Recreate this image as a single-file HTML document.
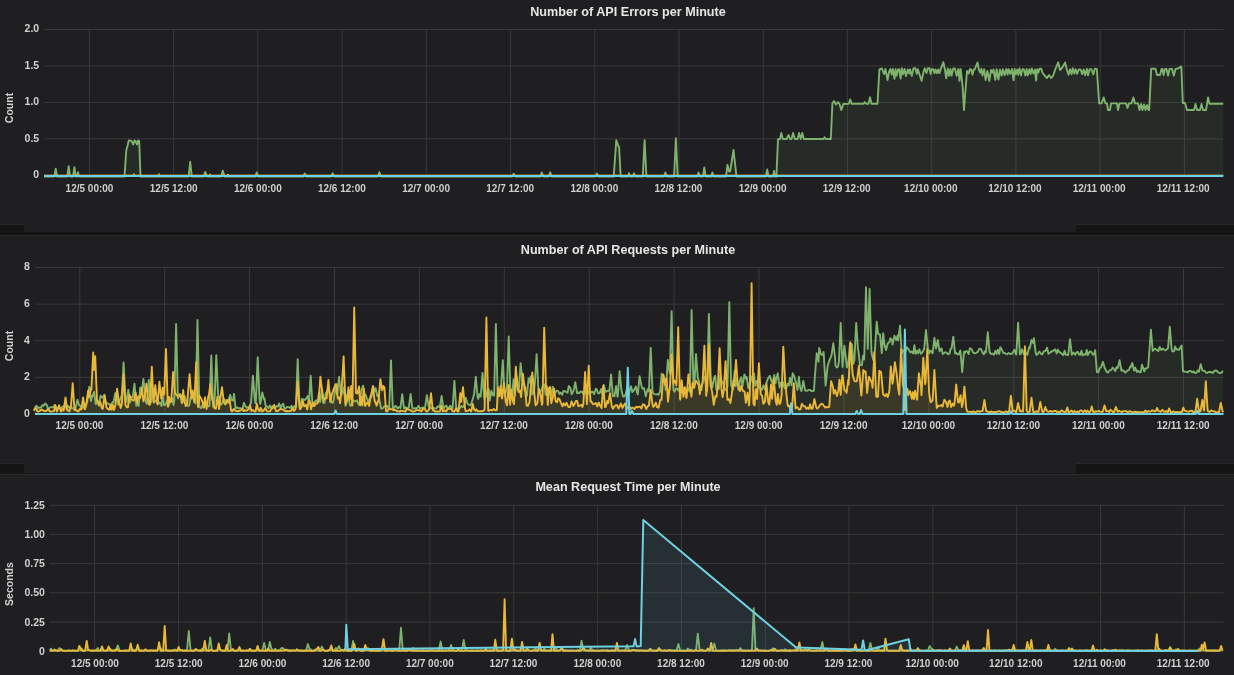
<!DOCTYPE html>
<html><head><meta charset="utf-8"><style>
html,body{margin:0;padding:0;}
body{width:1234px;height:675px;overflow:hidden;background:#1f1e20;position:relative;font-family:"Liberation Sans",sans-serif;}
.t{position:absolute;white-space:nowrap;color:#d0d0d0;font-weight:bold;}
.ttl{position:absolute;white-space:nowrap;color:#e6e6e6;font-weight:bold;font-size:13.2px;width:400px;text-align:center;transform:scaleX(0.955);}
.yl{filter:blur(0.2px);position:absolute;white-space:nowrap;color:#d0d0d0;font-weight:bold;font-size:10.5px;text-align:right;width:40px;}
.xl{filter:blur(0.2px);position:absolute;white-space:nowrap;color:#d0d0d0;font-weight:bold;font-size:10px;width:100px;text-align:center;}
.ax{filter:blur(0.2px);position:absolute;white-space:nowrap;color:#d0d0d0;font-weight:bold;font-size:10.5px;width:100px;text-align:center;transform:rotate(-90deg);}
.sep{position:absolute;}
svg{position:absolute;left:0;top:0;filter:blur(0.3px);}
</style></head><body>

<div class="sep" style="left:0;top:224px;width:24px;height:11px;background:#141414;border-top:1px solid #282828"></div>
<div class="sep" style="left:1076px;top:224px;width:158px;height:11px;background:#141414;border-top:1px solid #282828"></div>
<div class="sep" style="left:24px;top:232px;width:1052px;height:3px;background:#141414"></div>
<div class="sep" style="left:0;top:235px;width:1234px;height:1px;background:#292929"></div>
<div class="sep" style="left:0;top:463px;width:24px;height:9px;background:#141414;border-top:1px solid #282828"></div>
<div class="sep" style="left:1076px;top:463px;width:158px;height:9px;background:#141414;border-top:1px solid #282828"></div>
<div class="sep" style="left:0;top:473px;width:1234px;height:1px;background:#171717"></div>
<div class="sep" style="left:0;top:474px;width:1234px;height:1px;background:#292929"></div>
<svg width="1234" height="675" viewBox="0 0 1234 675">
<line x1="44.0" y1="175.30" x2="1223.3" y2="175.30" stroke="#3a393a" stroke-width="1"/>
<line x1="44.0" y1="138.85" x2="1223.3" y2="138.85" stroke="#3a393a" stroke-width="1"/>
<line x1="44.0" y1="102.40" x2="1223.3" y2="102.40" stroke="#3a393a" stroke-width="1"/>
<line x1="44.0" y1="65.95" x2="1223.3" y2="65.95" stroke="#3a393a" stroke-width="1"/>
<line x1="44.0" y1="29.50" x2="1223.3" y2="29.50" stroke="#3a393a" stroke-width="1"/>
<line x1="89.40" y1="29.5" x2="89.40" y2="175.3" stroke="#3a393a" stroke-width="1"/>
<line x1="173.63" y1="29.5" x2="173.63" y2="175.3" stroke="#3a393a" stroke-width="1"/>
<line x1="257.86" y1="29.5" x2="257.86" y2="175.3" stroke="#3a393a" stroke-width="1"/>
<line x1="342.09" y1="29.5" x2="342.09" y2="175.3" stroke="#3a393a" stroke-width="1"/>
<line x1="426.32" y1="29.5" x2="426.32" y2="175.3" stroke="#3a393a" stroke-width="1"/>
<line x1="510.55" y1="29.5" x2="510.55" y2="175.3" stroke="#3a393a" stroke-width="1"/>
<line x1="594.78" y1="29.5" x2="594.78" y2="175.3" stroke="#3a393a" stroke-width="1"/>
<line x1="679.01" y1="29.5" x2="679.01" y2="175.3" stroke="#3a393a" stroke-width="1"/>
<line x1="763.24" y1="29.5" x2="763.24" y2="175.3" stroke="#3a393a" stroke-width="1"/>
<line x1="847.47" y1="29.5" x2="847.47" y2="175.3" stroke="#3a393a" stroke-width="1"/>
<line x1="931.70" y1="29.5" x2="931.70" y2="175.3" stroke="#3a393a" stroke-width="1"/>
<line x1="1015.93" y1="29.5" x2="1015.93" y2="175.3" stroke="#3a393a" stroke-width="1"/>
<line x1="1100.16" y1="29.5" x2="1100.16" y2="175.3" stroke="#3a393a" stroke-width="1"/>
<line x1="1184.39" y1="29.5" x2="1184.39" y2="175.3" stroke="#3a393a" stroke-width="1"/>
<line x1="35.0" y1="414.00" x2="1223.5" y2="414.00" stroke="#3a393a" stroke-width="1"/>
<line x1="35.0" y1="377.38" x2="1223.5" y2="377.38" stroke="#3a393a" stroke-width="1"/>
<line x1="35.0" y1="340.75" x2="1223.5" y2="340.75" stroke="#3a393a" stroke-width="1"/>
<line x1="35.0" y1="304.12" x2="1223.5" y2="304.12" stroke="#3a393a" stroke-width="1"/>
<line x1="35.0" y1="267.50" x2="1223.5" y2="267.50" stroke="#3a393a" stroke-width="1"/>
<line x1="79.80" y1="267.5" x2="79.80" y2="414.0" stroke="#3a393a" stroke-width="1"/>
<line x1="164.70" y1="267.5" x2="164.70" y2="414.0" stroke="#3a393a" stroke-width="1"/>
<line x1="249.60" y1="267.5" x2="249.60" y2="414.0" stroke="#3a393a" stroke-width="1"/>
<line x1="334.50" y1="267.5" x2="334.50" y2="414.0" stroke="#3a393a" stroke-width="1"/>
<line x1="419.40" y1="267.5" x2="419.40" y2="414.0" stroke="#3a393a" stroke-width="1"/>
<line x1="504.30" y1="267.5" x2="504.30" y2="414.0" stroke="#3a393a" stroke-width="1"/>
<line x1="589.20" y1="267.5" x2="589.20" y2="414.0" stroke="#3a393a" stroke-width="1"/>
<line x1="674.10" y1="267.5" x2="674.10" y2="414.0" stroke="#3a393a" stroke-width="1"/>
<line x1="759.00" y1="267.5" x2="759.00" y2="414.0" stroke="#3a393a" stroke-width="1"/>
<line x1="843.90" y1="267.5" x2="843.90" y2="414.0" stroke="#3a393a" stroke-width="1"/>
<line x1="928.80" y1="267.5" x2="928.80" y2="414.0" stroke="#3a393a" stroke-width="1"/>
<line x1="1013.70" y1="267.5" x2="1013.70" y2="414.0" stroke="#3a393a" stroke-width="1"/>
<line x1="1098.60" y1="267.5" x2="1098.60" y2="414.0" stroke="#3a393a" stroke-width="1"/>
<line x1="1183.50" y1="267.5" x2="1183.50" y2="414.0" stroke="#3a393a" stroke-width="1"/>
<line x1="49.7" y1="651.20" x2="1223.3" y2="651.20" stroke="#3a393a" stroke-width="1"/>
<line x1="49.7" y1="622.00" x2="1223.3" y2="622.00" stroke="#3a393a" stroke-width="1"/>
<line x1="49.7" y1="592.80" x2="1223.3" y2="592.80" stroke="#3a393a" stroke-width="1"/>
<line x1="49.7" y1="563.60" x2="1223.3" y2="563.60" stroke="#3a393a" stroke-width="1"/>
<line x1="49.7" y1="534.40" x2="1223.3" y2="534.40" stroke="#3a393a" stroke-width="1"/>
<line x1="49.7" y1="505.20" x2="1223.3" y2="505.20" stroke="#3a393a" stroke-width="1"/>
<line x1="94.70" y1="505.2" x2="94.70" y2="651.2" stroke="#3a393a" stroke-width="1"/>
<line x1="178.52" y1="505.2" x2="178.52" y2="651.2" stroke="#3a393a" stroke-width="1"/>
<line x1="262.34" y1="505.2" x2="262.34" y2="651.2" stroke="#3a393a" stroke-width="1"/>
<line x1="346.16" y1="505.2" x2="346.16" y2="651.2" stroke="#3a393a" stroke-width="1"/>
<line x1="429.98" y1="505.2" x2="429.98" y2="651.2" stroke="#3a393a" stroke-width="1"/>
<line x1="513.80" y1="505.2" x2="513.80" y2="651.2" stroke="#3a393a" stroke-width="1"/>
<line x1="597.62" y1="505.2" x2="597.62" y2="651.2" stroke="#3a393a" stroke-width="1"/>
<line x1="681.44" y1="505.2" x2="681.44" y2="651.2" stroke="#3a393a" stroke-width="1"/>
<line x1="765.26" y1="505.2" x2="765.26" y2="651.2" stroke="#3a393a" stroke-width="1"/>
<line x1="849.08" y1="505.2" x2="849.08" y2="651.2" stroke="#3a393a" stroke-width="1"/>
<line x1="932.90" y1="505.2" x2="932.90" y2="651.2" stroke="#3a393a" stroke-width="1"/>
<line x1="1016.72" y1="505.2" x2="1016.72" y2="651.2" stroke="#3a393a" stroke-width="1"/>
<line x1="1100.54" y1="505.2" x2="1100.54" y2="651.2" stroke="#3a393a" stroke-width="1"/>
<line x1="1184.36" y1="505.2" x2="1184.36" y2="651.2" stroke="#3a393a" stroke-width="1"/>
<polygon points="44.0,176.0 44.0,176.6 54.3,176.6 55.7,168.6 57.1,176.6 67.3,176.6 68.7,166.2 70.1,176.6 73.0,176.6 74.4,167.3 75.8,176.6 77.0,176.6 78.0,172.2 79.0,176.6 124.5,176.6 126.3,150.0 127.5,146.0 128.8,140.5 130.5,140.6 131.6,141.2 133.2,144.5 134.5,140.5 135.6,141.0 136.9,144.5 138.1,140.5 139.2,141.0 140.5,176.6 188.6,176.6 190.2,161.8 191.8,176.6 203.7,176.6 205.3,171.9 206.9,176.6 221.2,176.6 222.8,170.6 224.4,176.6 255.1,176.6 256.7,172.5 258.3,176.6 303.2,176.6 304.8,173.5 306.4,176.6 331.1,176.6 332.7,173.3 334.3,176.6 377.8,176.6 379.4,172.2 381.0,176.6 512.1,176.6 513.7,173.7 515.3,176.6 540.2,176.6 541.8,172.5 543.4,176.6 548.6,176.6 550.2,172.3 551.8,176.6 595.3,176.6 596.9,173.5 598.5,176.6 613.7,176.6 616.3,140.3 618.3,145.9 619.1,147.0 620.7,176.6 627.8,176.6 629.0,173.2 630.2,176.6 632.8,176.6 634.0,173.2 635.2,176.6 642.8,176.6 644.6,140.3 646.4,176.6 664.0,176.6 665.4,172.5 666.8,176.6 674.1,176.6 675.9,138.3 677.7,176.6 697.2,176.6 698.6,172.5 700.0,176.6 702.9,176.6 704.3,167.5 705.7,176.6 711.0,176.6 712.4,172.5 713.8,176.6 726.0,176.6 727.5,164.6 729.0,171.5 730.2,171.0 733.5,150.0 736.5,176.6 765.8,176.6 767.2,169.4 768.6,176.6 773.0,176.6 774.0,171.0 775.0,176.6 776.4,176.6 778.0,139.2 780.0,139.0 781.3,133.0 782.8,139.0 786.5,139.0 788.6,135.0 790.0,139.0 791.5,139.0 793.1,133.0 794.8,139.0 797.5,139.0 799.1,133.0 800.7,139.0 802.3,133.0 803.8,139.0 823.5,139.0 824.6,137.3 825.8,139.0 830.8,139.0 832.4,103.5 834.0,101.0 836.0,104.5 838.0,102.0 839.5,104.0 841.3,110.0 843.4,104.0 848.8,103.8 850.2,99.4 851.6,103.8 863.5,103.8 864.8,102.0 866.2,103.8 868.5,103.8 870.0,97.3 871.5,103.8 877.5,103.8 879.4,69.5 882.0,68.5 884.0,74.0 885.5,69.0 887.5,80.0 889.0,72.0 890.4,69.0 891.7,74.6 892.9,68.9 894.5,78.9 895.6,69.3 896.6,75.9 898.1,69.1 899.2,69.1 900.6,78.6 901.8,68.2 903.1,74.3 904.6,68.9 906.0,76.0 907.8,69.4 909.1,73.5 910.1,69.3 911.8,75.9 913.5,68.2 915.4,68.2 916.8,73.9 917.8,69.1 921.6,80.8 923.5,72.0 924.7,68.3 926.5,72.9 927.7,68.3 929.5,68.3 930.6,74.1 931.8,69.2 933.4,69.2 934.5,73.2 935.7,69.6 937.0,73.2 938.3,69.4 939.4,73.2 940.6,69.3 943.4,62.2 945.0,70.0 946.2,78.3 947.7,68.5 949.0,75.9 950.4,69.0 951.5,75.7 953.2,68.5 954.9,68.5 956.7,75.8 958.4,69.0 959.5,80.9 960.7,69.2 962.5,85.0 964.0,110.0 965.5,90.0 967.0,71.0 968.7,73.5 969.8,69.2 971.0,69.2 972.5,74.7 973.7,69.5 974.7,69.5 977.5,62.5 979.0,70.0 980.2,72.7 981.4,68.7 982.5,75.6 984.2,69.1 985.6,80.0 987.4,71.0 989.3,81.0 991.0,70.0 992.5,72.6 993.5,69.5 995.3,79.9 996.6,69.2 998.4,79.6 1000.0,69.5 1001.6,75.7 1002.9,69.2 1004.6,75.3 1006.3,69.0 1007.6,74.6 1008.6,69.1 1010.3,73.9 1011.9,69.0 1013.6,80.3 1014.6,69.0 1015.8,74.2 1017.3,69.5 1018.3,74.9 1019.5,68.4 1021.0,75.6 1022.3,69.1 1023.7,69.1 1025.3,75.6 1026.6,69.0 1027.7,75.4 1029.4,69.2 1030.6,74.1 1031.9,68.5 1033.4,73.6 1035.0,69.6 1036.1,80.6 1037.1,69.2 1038.4,72.6 1039.5,68.8 1041.3,68.8 1042.5,72.7 1045.0,76.0 1047.0,78.0 1049.0,75.0 1051.0,78.0 1053.0,76.0 1055.0,70.0 1058.2,62.3 1060.0,70.0 1062.0,68.0 1065.1,62.5 1067.0,70.0 1068.5,74.7 1070.0,69.3 1071.6,74.2 1072.7,68.2 1074.3,73.5 1075.6,69.2 1077.1,73.9 1078.7,69.5 1080.6,69.5 1082.2,74.1 1083.7,69.5 1085.2,75.3 1086.9,68.8 1088.1,75.4 1089.6,69.2 1091.5,69.2 1093.3,74.4 1094.9,68.6 1096.8,69.0 1099.2,103.4 1101.5,103.4 1103.7,97.5 1105.5,103.4 1107.0,103.4 1108.0,110.0 1110.0,110.0 1111.0,103.4 1117.0,103.4 1118.0,110.0 1119.5,103.4 1126.0,103.4 1127.5,108.0 1129.0,103.4 1131.5,103.4 1133.4,97.5 1135.0,103.4 1138.0,103.4 1139.5,110.0 1141.0,104.0 1142.5,110.0 1144.0,104.5 1145.5,110.0 1147.0,105.0 1148.5,110.0 1149.2,110.0 1151.2,68.8 1155.5,68.8 1157.0,75.0 1160.0,75.0 1161.5,69.0 1162.5,69.0 1163.6,75.0 1165.0,69.0 1166.5,69.0 1168.1,75.5 1169.5,69.0 1172.0,69.0 1173.8,75.5 1175.5,69.0 1178.0,68.5 1180.0,67.3 1180.8,66.5 1181.4,67.0 1182.8,103.0 1185.0,103.0 1187.0,110.0 1194.0,110.0 1195.5,104.0 1197.0,110.0 1200.0,110.0 1201.5,104.0 1203.0,110.0 1206.0,110.0 1208.1,97.5 1209.5,103.8 1223.3,103.8 1223.3,176.0" fill="#7eb26d" fill-opacity="0.09" stroke="none"/>
<polyline points="44.0,176.6 54.3,176.6 55.7,168.6 57.1,176.6 67.3,176.6 68.7,166.2 70.1,176.6 73.0,176.6 74.4,167.3 75.8,176.6 77.0,176.6 78.0,172.2 79.0,176.6 124.5,176.6 126.3,150.0 127.5,146.0 128.8,140.5 130.5,140.6 131.6,141.2 133.2,144.5 134.5,140.5 135.6,141.0 136.9,144.5 138.1,140.5 139.2,141.0 140.5,176.6 188.6,176.6 190.2,161.8 191.8,176.6 203.7,176.6 205.3,171.9 206.9,176.6 221.2,176.6 222.8,170.6 224.4,176.6 255.1,176.6 256.7,172.5 258.3,176.6 303.2,176.6 304.8,173.5 306.4,176.6 331.1,176.6 332.7,173.3 334.3,176.6 377.8,176.6 379.4,172.2 381.0,176.6 512.1,176.6 513.7,173.7 515.3,176.6 540.2,176.6 541.8,172.5 543.4,176.6 548.6,176.6 550.2,172.3 551.8,176.6 595.3,176.6 596.9,173.5 598.5,176.6 613.7,176.6 616.3,140.3 618.3,145.9 619.1,147.0 620.7,176.6 627.8,176.6 629.0,173.2 630.2,176.6 632.8,176.6 634.0,173.2 635.2,176.6 642.8,176.6 644.6,140.3 646.4,176.6 664.0,176.6 665.4,172.5 666.8,176.6 674.1,176.6 675.9,138.3 677.7,176.6 697.2,176.6 698.6,172.5 700.0,176.6 702.9,176.6 704.3,167.5 705.7,176.6 711.0,176.6 712.4,172.5 713.8,176.6 726.0,176.6 727.5,164.6 729.0,171.5 730.2,171.0 733.5,150.0 736.5,176.6 765.8,176.6 767.2,169.4 768.6,176.6 773.0,176.6 774.0,171.0 775.0,176.6 776.4,176.6 778.0,139.2 780.0,139.0 781.3,133.0 782.8,139.0 786.5,139.0 788.6,135.0 790.0,139.0 791.5,139.0 793.1,133.0 794.8,139.0 797.5,139.0 799.1,133.0 800.7,139.0 802.3,133.0 803.8,139.0 823.5,139.0 824.6,137.3 825.8,139.0 830.8,139.0 832.4,103.5 834.0,101.0 836.0,104.5 838.0,102.0 839.5,104.0 841.3,110.0 843.4,104.0 848.8,103.8 850.2,99.4 851.6,103.8 863.5,103.8 864.8,102.0 866.2,103.8 868.5,103.8 870.0,97.3 871.5,103.8 877.5,103.8 879.4,69.5 882.0,68.5 884.0,74.0 885.5,69.0 887.5,80.0 889.0,72.0 890.4,69.0 891.7,74.6 892.9,68.9 894.5,78.9 895.6,69.3 896.6,75.9 898.1,69.1 899.2,69.1 900.6,78.6 901.8,68.2 903.1,74.3 904.6,68.9 906.0,76.0 907.8,69.4 909.1,73.5 910.1,69.3 911.8,75.9 913.5,68.2 915.4,68.2 916.8,73.9 917.8,69.1 921.6,80.8 923.5,72.0 924.7,68.3 926.5,72.9 927.7,68.3 929.5,68.3 930.6,74.1 931.8,69.2 933.4,69.2 934.5,73.2 935.7,69.6 937.0,73.2 938.3,69.4 939.4,73.2 940.6,69.3 943.4,62.2 945.0,70.0 946.2,78.3 947.7,68.5 949.0,75.9 950.4,69.0 951.5,75.7 953.2,68.5 954.9,68.5 956.7,75.8 958.4,69.0 959.5,80.9 960.7,69.2 962.5,85.0 964.0,110.0 965.5,90.0 967.0,71.0 968.7,73.5 969.8,69.2 971.0,69.2 972.5,74.7 973.7,69.5 974.7,69.5 977.5,62.5 979.0,70.0 980.2,72.7 981.4,68.7 982.5,75.6 984.2,69.1 985.6,80.0 987.4,71.0 989.3,81.0 991.0,70.0 992.5,72.6 993.5,69.5 995.3,79.9 996.6,69.2 998.4,79.6 1000.0,69.5 1001.6,75.7 1002.9,69.2 1004.6,75.3 1006.3,69.0 1007.6,74.6 1008.6,69.1 1010.3,73.9 1011.9,69.0 1013.6,80.3 1014.6,69.0 1015.8,74.2 1017.3,69.5 1018.3,74.9 1019.5,68.4 1021.0,75.6 1022.3,69.1 1023.7,69.1 1025.3,75.6 1026.6,69.0 1027.7,75.4 1029.4,69.2 1030.6,74.1 1031.9,68.5 1033.4,73.6 1035.0,69.6 1036.1,80.6 1037.1,69.2 1038.4,72.6 1039.5,68.8 1041.3,68.8 1042.5,72.7 1045.0,76.0 1047.0,78.0 1049.0,75.0 1051.0,78.0 1053.0,76.0 1055.0,70.0 1058.2,62.3 1060.0,70.0 1062.0,68.0 1065.1,62.5 1067.0,70.0 1068.5,74.7 1070.0,69.3 1071.6,74.2 1072.7,68.2 1074.3,73.5 1075.6,69.2 1077.1,73.9 1078.7,69.5 1080.6,69.5 1082.2,74.1 1083.7,69.5 1085.2,75.3 1086.9,68.8 1088.1,75.4 1089.6,69.2 1091.5,69.2 1093.3,74.4 1094.9,68.6 1096.8,69.0 1099.2,103.4 1101.5,103.4 1103.7,97.5 1105.5,103.4 1107.0,103.4 1108.0,110.0 1110.0,110.0 1111.0,103.4 1117.0,103.4 1118.0,110.0 1119.5,103.4 1126.0,103.4 1127.5,108.0 1129.0,103.4 1131.5,103.4 1133.4,97.5 1135.0,103.4 1138.0,103.4 1139.5,110.0 1141.0,104.0 1142.5,110.0 1144.0,104.5 1145.5,110.0 1147.0,105.0 1148.5,110.0 1149.2,110.0 1151.2,68.8 1155.5,68.8 1157.0,75.0 1160.0,75.0 1161.5,69.0 1162.5,69.0 1163.6,75.0 1165.0,69.0 1166.5,69.0 1168.1,75.5 1169.5,69.0 1172.0,69.0 1173.8,75.5 1175.5,69.0 1178.0,68.5 1180.0,67.3 1180.8,66.5 1181.4,67.0 1182.8,103.0 1185.0,103.0 1187.0,110.0 1194.0,110.0 1195.5,104.0 1197.0,110.0 1200.0,110.0 1201.5,104.0 1203.0,110.0 1206.0,110.0 1208.1,97.5 1209.5,103.8 1223.3,103.8" fill="none" stroke="#7eb26d" stroke-width="1.9" stroke-linejoin="round"/>
<polyline points="44.0,175.2 132.8,175.2 134.0,173.5 135.2,175.2 157.8,175.2 159.0,173.5 160.2,175.2 208.8,175.2 210.0,173.8 211.2,175.2 226.8,175.2 228.0,174.0 229.2,175.2 1223.3,175.2" fill="none" stroke="#eab839" stroke-width="1.0" stroke-linejoin="round"/>
<line x1="44" y1="176.0" x2="1223.3" y2="176.0" stroke="#6ed0e0" stroke-width="1.8"/>
<polygon points="35.0,414.0 35.0,407.3 36.6,405.8 38.3,408.5 40.0,407.2 41.1,407.8 42.6,404.9 43.6,405.8 45.4,403.4 47.2,405.6 47.7,408.4 49.3,408.2 50.7,407.1 52.5,407.1 53.1,407.5 54.9,404.9 56.7,408.3 56.8,408.5 58.1,408.2 59.4,408.2 61.0,408.5 62.1,406.8 63.1,406.6 64.6,405.1 66.3,408.4 68.0,405.8 69.3,407.7 70.4,406.8 72.1,408.5 73.2,408.2 74.9,408.2 75.6,408.2 77.4,399.8 79.2,405.5 80.1,405.6 81.4,408.3 83.1,407.9 84.1,403.3 85.8,405.8 87.4,400.7 89.2,386.8 91.0,401.0 92.0,395.8 92.2,396.8 94.0,392.0 95.8,404.1 95.9,404.0 97.6,400.5 98.9,405.9 100.5,395.5 102.1,397.6 102.6,397.7 104.4,394.5 106.2,404.3 106.8,403.2 108.5,403.6 109.5,404.6 111.1,405.3 112.6,401.9 113.5,402.4 115.3,393.3 117.1,400.2 118.3,404.8 119.9,400.0 121.5,395.7 121.8,395.3 123.6,362.5 125.4,398.3 125.8,397.5 126.5,401.8 128.3,389.8 130.1,402.5 131.0,397.7 132.2,396.5 132.7,397.1 134.5,383.6 136.3,405.7 137.6,403.4 138.7,405.8 140.2,387.5 141.5,392.1 141.6,392.7 143.4,379.0 145.2,396.4 145.8,401.8 146.8,403.8 147.0,403.8 148.8,380.0 150.6,402.0 151.2,402.5 152.5,387.4 154.0,402.8 155.4,400.9 157.1,399.6 158.5,403.7 159.8,402.5 161.5,406.0 162.7,393.8 163.9,405.0 165.7,404.8 167.1,400.2 168.6,405.8 169.9,402.0 171.1,402.1 172.4,398.2 173.5,405.1 174.3,400.4 176.1,324.0 177.9,398.4 179.1,394.4 180.4,395.8 181.7,395.4 182.9,401.7 184.7,396.0 186.5,402.7 187.5,405.7 189.1,405.9 190.7,397.2 191.8,398.7 193.6,395.3 194.8,400.2 195.7,403.6 197.5,319.9 199.3,405.6 199.3,405.6 200.4,407.9 201.5,408.0 203.1,403.4 204.4,407.4 205.8,402.7 206.9,405.1 208.4,406.5 209.5,405.9 211.3,355.5 213.1,406.9 214.0,404.7 214.5,402.4 216.3,355.1 218.1,394.7 219.2,396.9 220.3,404.7 221.8,404.3 223.5,398.8 224.7,399.5 225.9,403.4 227.2,402.9 228.8,399.1 230.2,394.8 231.6,400.4 232.9,400.6 234.0,393.9 235.6,408.5 237.3,407.3 238.7,408.5 239.8,408.1 241.5,408.4 242.7,408.4 243.9,402.8 245.2,405.9 246.8,407.8 247.9,407.2 249.4,406.9 250.6,404.0 251.1,402.9 252.9,375.6 254.7,398.2 255.4,403.1 255.9,401.5 257.7,357.2 259.5,398.6 260.2,404.0 260.5,403.3 262.3,392.4 264.1,399.8 264.5,398.4 265.6,405.6 266.9,406.5 268.6,408.4 269.9,405.4 271.1,407.6 272.5,406.3 273.6,407.6 275.1,408.1 276.6,406.0 278.0,406.5 279.1,403.5 280.7,408.2 281.8,404.9 283.3,403.8 284.4,408.4 285.7,408.5 287.0,406.8 288.6,407.2 290.1,407.9 291.6,405.8 293.1,408.3 294.5,406.0 295.7,407.1 295.9,407.1 297.7,359.2 299.5,406.1 300.6,405.4 301.9,398.9 303.6,399.3 304.7,400.0 306.4,398.4 307.7,396.0 308.9,402.7 310.7,375.6 312.5,405.9 313.6,406.0 314.7,402.0 316.3,400.2 317.6,402.3 318.9,392.8 320.2,401.9 321.8,390.0 323.1,402.6 324.5,403.0 325.6,393.7 326.8,391.6 328.4,389.6 330.0,393.8 331.4,402.4 332.7,403.0 334.0,398.9 335.4,385.6 337.0,394.4 337.3,393.9 339.1,376.8 340.9,395.2 341.2,395.3 342.6,392.6 343.9,387.5 345.5,405.9 347.0,395.0 348.5,397.6 350.0,405.5 351.7,405.3 353.1,400.3 354.3,400.9 356.0,401.5 357.1,400.3 358.6,404.3 359.8,404.9 361.3,390.3 363.1,385.7 364.9,395.9 365.6,394.5 366.9,398.5 368.2,401.7 369.9,398.4 371.4,397.2 371.4,397.2 373.2,386.2 375.0,391.3 375.7,388.3 377.3,396.3 378.6,395.2 379.9,402.8 381.1,408.5 382.6,408.5 384.1,406.5 385.7,405.9 387.2,405.7 388.3,408.5 389.2,408.1 391.0,360.4 392.8,408.1 394.1,408.1 395.5,405.7 396.6,406.8 397.8,408.5 399.1,406.9 400.4,408.2 402.2,394.2 404.0,408.3 404.7,408.5 405.9,407.2 407.1,408.5 408.8,407.7 410.6,393.9 412.4,408.5 413.5,408.5 414.9,408.1 415.9,408.4 417.3,407.8 418.5,405.8 420.0,408.5 421.5,407.9 423.2,407.3 424.3,408.5 425.1,407.1 426.9,395.1 428.7,406.4 428.9,406.1 430.5,408.0 432.3,408.4 433.5,407.8 435.0,408.5 436.4,408.5 438.1,406.1 439.1,406.4 439.8,407.4 441.6,396.0 443.4,407.7 443.6,408.3 445.0,406.7 446.4,405.6 447.5,408.5 448.8,408.1 450.2,405.7 451.7,408.3 452.6,408.4 454.4,380.9 456.2,407.8 457.7,408.5 458.8,408.1 459.9,408.2 461.4,405.9 462.8,407.0 464.5,405.6 465.7,397.6 467.3,403.1 469.0,404.9 470.6,405.3 472.0,401.4 473.4,396.8 474.0,394.8 475.8,376.8 477.6,397.1 478.3,398.8 479.5,394.0 480.7,396.6 482.5,372.9 484.3,399.0 484.4,399.1 485.5,389.7 487.0,396.9 488.7,389.2 489.8,400.6 491.3,390.7 492.4,395.0 493.5,392.8 494.1,395.7 495.9,324.0 497.7,396.5 499.1,390.0 500.2,392.4 501.0,387.4 502.8,360.1 504.6,394.9 504.9,395.6 506.3,390.3 506.9,389.0 508.7,336.4 510.5,394.7 512.1,394.6 513.6,379.2 514.9,395.8 516.6,376.4 517.9,387.9 518.8,391.4 520.6,363.1 522.4,380.4 522.7,378.2 524.4,384.2 525.6,396.0 526.9,395.8 528.6,378.1 529.7,382.5 530.8,376.5 532.2,394.5 533.9,392.3 534.8,384.0 536.6,354.2 538.4,389.1 538.4,389.2 540.1,391.7 541.8,389.4 543.1,384.9 544.5,384.5 545.6,394.8 547.2,394.9 548.3,388.8 549.8,391.2 551.3,394.8 552.6,386.8 553.7,391.9 555.2,392.8 556.8,390.6 558.1,390.9 559.4,393.9 560.6,392.6 562.1,394.7 563.4,391.0 564.8,391.1 566.0,391.9 567.6,392.7 568.8,386.0 570.3,387.8 571.7,394.4 573.5,390.8 573.5,390.9 575.3,382.1 577.1,393.2 577.6,392.3 579.2,393.1 580.5,391.7 582.0,391.5 583.5,394.3 585.1,391.2 586.7,394.2 588.1,391.0 589.5,394.2 591.1,392.2 592.5,391.6 594.0,394.1 595.8,388.7 596.9,389.5 597.9,393.1 599.5,393.3 601.2,389.0 602.0,393.1 603.8,385.0 605.6,391.9 606.9,391.1 608.6,390.6 609.3,391.5 611.1,374.4 612.9,396.2 612.9,396.2 614.5,396.4 616.1,385.9 617.4,396.5 617.8,396.5 619.6,371.1 621.4,390.0 623.0,396.6 624.1,396.6 625.7,394.3 627.0,388.1 628.5,396.2 629.8,389.7 631.1,386.3 632.3,392.0 633.4,391.1 634.7,389.1 635.9,386.5 637.0,392.3 637.8,394.3 639.6,376.2 641.4,385.5 642.4,388.6 644.1,388.1 645.8,396.2 647.0,391.6 648.1,388.8 648.9,391.5 650.7,347.8 652.5,391.1 653.3,393.5 654.7,394.1 656.2,394.4 657.3,394.1 658.6,394.7 660.1,391.4 661.6,373.8 663.3,375.8 664.6,378.4 665.7,390.0 666.0,387.8 667.8,360.0 669.6,373.2 669.8,372.2 671.6,311.1 673.4,390.0 674.6,391.7 676.2,388.2 677.4,388.9 678.7,390.8 680.1,385.2 681.3,392.0 682.8,390.9 684.3,387.4 685.9,390.3 687.4,391.5 688.4,387.5 689.8,391.8 691.6,310.0 693.4,384.4 694.2,388.0 696.0,354.0 697.8,378.0 699.0,381.2 700.1,389.5 701.5,390.0 703.1,378.4 704.7,376.7 706.0,384.7 707.1,388.9 707.1,389.0 708.9,314.0 710.7,379.6 711.1,381.1 712.4,387.5 713.9,378.3 715.2,375.8 716.4,390.0 717.6,389.3 719.0,388.7 720.2,375.7 721.8,381.4 723.4,383.7 724.5,389.4 726.0,389.9 727.3,386.4 727.5,386.7 729.3,302.2 731.1,385.1 731.6,386.5 733.1,389.7 734.6,371.0 735.6,386.0 736.7,378.4 738.4,389.9 739.9,380.8 741.2,377.2 742.4,386.3 742.6,385.7 744.4,374.4 746.2,379.2 746.7,376.9 748.2,388.2 749.5,383.9 751.0,376.3 752.6,382.1 754.0,373.4 755.2,386.1 756.8,380.6 758.5,386.9 760.2,388.3 762.0,389.9 763.5,385.3 765.1,389.7 766.6,382.2 768.2,378.0 769.9,375.7 771.2,380.5 772.7,383.5 774.3,374.9 775.7,383.1 776.0,380.6 777.8,373.3 779.6,387.5 780.6,382.9 782.3,386.4 783.5,382.3 784.7,388.4 786.4,388.0 787.6,383.7 788.8,385.6 789.9,377.8 791.5,385.3 792.6,373.3 794.4,376.7 796.2,383.5 797.5,390.0 798.9,376.8 800.0,387.1 801.3,391.0 801.5,390.8 803.3,381.0 805.1,390.4 806.0,390.8 807.1,390.8 808.6,389.9 810.1,389.9 811.3,391.0 812.6,391.0 813.9,390.8 814.9,376.2 816.7,353.3 818.5,361.7 819.2,348.0 821.0,354.4 822.8,355.2 823.5,352.5 823.6,351.9 825.6,385.6 827.6,366.3 828.2,363.9 830.0,358.9 831.5,355.4 833.3,343.3 835.1,357.9 835.5,365.5 836.7,367.4 838.0,366.6 838.9,361.9 840.7,322.9 842.5,367.0 842.5,367.0 842.6,366.3 844.4,345.6 846.2,360.8 846.8,367.5 848.2,364.3 850.0,343.3 851.8,344.2 852.0,344.4 853.3,363.9 854.4,360.0 856.2,322.9 858.0,349.2 858.5,351.9 860.0,365.0 861.5,365.1 861.8,365.4 863.1,355.7 864.2,359.6 866.0,287.3 867.8,348.9 867.8,348.9 869.6,288.9 871.4,350.3 871.6,352.5 871.8,354.1 873.3,360.0 874.8,350.6 874.9,350.6 876.7,321.6 878.2,334.0 880.0,334.4 881.8,353.1 883.2,333.3 884.6,345.4 886.0,350.0 887.8,343.3 889.6,342.0 890.3,338.3 891.9,339.7 892.6,344.6 894.4,335.6 896.2,339.9 897.6,335.5 898.2,340.4 900.0,325.6 901.8,353.7 903.0,351.2 904.4,350.0 905.7,350.7 907.0,347.3 908.7,349.4 910.3,352.4 911.6,351.4 913.3,353.4 914.4,345.2 915.6,353.9 917.0,350.7 918.2,353.3 919.4,349.2 920.9,353.7 922.6,352.1 924.1,348.7 924.2,349.2 926.0,330.0 927.8,348.3 929.1,353.6 930.5,350.5 932.0,352.3 932.6,353.3 934.4,337.8 936.0,348.6 937.8,340.0 939.6,351.4 940.4,349.1 941.6,348.5 942.8,354.1 944.1,353.0 945.3,352.2 946.5,352.6 948.2,354.2 949.4,353.7 950.7,348.6 951.5,348.6 953.3,336.7 955.1,353.5 956.3,352.8 957.5,354.3 958.9,354.4 960.1,350.9 960.4,350.5 962.2,372.2 964.0,351.8 964.6,353.2 965.8,351.1 967.5,351.5 968.6,354.1 969.9,348.3 971.6,349.1 973.1,352.4 974.7,353.3 976.4,352.8 977.7,351.9 979.4,348.6 981.1,349.2 982.7,352.8 983.9,354.3 985.0,351.3 986.0,352.2 987.8,332.2 989.6,351.9 990.7,353.8 992.4,353.6 993.9,354.7 995.3,351.0 996.6,353.9 997.9,349.6 999.2,354.0 1000.3,347.2 1002.0,349.9 1003.3,352.9 1004.5,353.0 1005.7,353.6 1007.2,354.2 1008.6,353.0 1010.0,353.8 1011.7,354.0 1013.1,352.2 1014.4,349.8 1015.9,354.5 1016.3,354.5 1018.1,322.6 1019.9,354.4 1020.5,354.1 1022.1,349.2 1023.7,354.0 1025.1,350.2 1026.3,353.8 1027.4,354.9 1029.1,347.1 1029.7,348.5 1031.5,340.0 1033.3,342.9 1033.9,338.1 1035.7,352.9 1036.5,355.0 1037.9,353.8 1039.4,351.4 1040.8,353.6 1042.2,354.5 1043.9,351.2 1045.4,351.1 1047.1,347.7 1048.4,353.8 1050.1,352.8 1051.3,351.3 1052.5,351.3 1053.7,350.4 1055.2,349.4 1056.6,353.4 1058.0,349.6 1059.3,352.4 1060.6,352.5 1062.2,354.3 1063.4,355.1 1064.6,350.7 1065.9,354.9 1067.6,354.9 1068.2,355.0 1070.0,339.1 1071.8,354.7 1073.5,352.6 1075.1,354.7 1076.4,352.5 1078.0,352.0 1079.1,354.6 1080.2,354.9 1081.5,350.8 1082.7,355.4 1084.2,354.2 1085.6,354.6 1086.7,350.0 1087.8,355.2 1089.2,352.1 1090.4,351.4 1091.5,352.1 1092.8,354.6 1094.1,354.3 1095.2,350.2 1096.9,372.1 1098.3,372.3 1099.7,368.2 1101.1,367.1 1102.9,361.8 1104.7,367.9 1105.4,369.1 1106.6,371.9 1108.1,372.5 1109.8,370.1 1111.2,370.1 1112.6,367.6 1114.2,369.3 1115.3,371.1 1116.5,367.1 1117.8,368.1 1119.6,360.1 1121.4,370.7 1121.9,369.9 1123.5,370.6 1124.6,372.1 1125.7,372.5 1127.2,370.6 1128.9,370.1 1130.2,366.8 1130.5,367.3 1132.3,363.0 1134.1,370.6 1134.2,370.6 1135.3,367.6 1136.9,372.0 1138.0,370.7 1139.4,372.0 1140.8,372.2 1142.0,364.6 1143.1,367.7 1144.3,371.4 1145.3,368.4 1146.9,368.2 1148.2,367.1 1149.1,354.8 1150.9,329.8 1152.7,350.8 1153.4,350.1 1155.1,348.7 1156.8,350.0 1158.3,351.1 1159.6,347.1 1161.3,349.9 1162.7,348.6 1164.0,349.5 1165.6,350.4 1166.9,349.1 1168.0,348.5 1169.8,326.8 1171.6,348.7 1172.4,351.4 1174.1,351.3 1175.2,346.5 1176.4,349.4 1177.5,349.5 1178.9,349.9 1180.6,347.1 1181.6,345.5 1183.0,371.3 1184.6,371.6 1186.1,371.8 1187.8,372.3 1189.0,370.9 1190.6,370.9 1192.0,372.4 1193.6,371.4 1195.0,373.0 1196.3,372.8 1197.8,370.5 1198.9,371.7 1200.7,364.2 1202.5,370.5 1203.5,370.9 1204.9,370.9 1206.2,372.9 1207.5,372.8 1209.0,371.7 1210.5,372.3 1211.6,372.0 1212.9,372.9 1214.0,371.4 1215.6,370.4 1216.8,370.6 1218.1,372.4 1219.9,373.0 1221.6,372.8 1222.8,370.6 1222.8,414.0" fill="#7eb26d" fill-opacity="0.09" stroke="none"/>
<polyline points="35.0,407.3 36.6,405.8 38.3,408.5 40.0,407.2 41.1,407.8 42.6,404.9 43.6,405.8 45.4,403.4 47.2,405.6 47.7,408.4 49.3,408.2 50.7,407.1 52.5,407.1 53.1,407.5 54.9,404.9 56.7,408.3 56.8,408.5 58.1,408.2 59.4,408.2 61.0,408.5 62.1,406.8 63.1,406.6 64.6,405.1 66.3,408.4 68.0,405.8 69.3,407.7 70.4,406.8 72.1,408.5 73.2,408.2 74.9,408.2 75.6,408.2 77.4,399.8 79.2,405.5 80.1,405.6 81.4,408.3 83.1,407.9 84.1,403.3 85.8,405.8 87.4,400.7 89.2,386.8 91.0,401.0 92.0,395.8 92.2,396.8 94.0,392.0 95.8,404.1 95.9,404.0 97.6,400.5 98.9,405.9 100.5,395.5 102.1,397.6 102.6,397.7 104.4,394.5 106.2,404.3 106.8,403.2 108.5,403.6 109.5,404.6 111.1,405.3 112.6,401.9 113.5,402.4 115.3,393.3 117.1,400.2 118.3,404.8 119.9,400.0 121.5,395.7 121.8,395.3 123.6,362.5 125.4,398.3 125.8,397.5 126.5,401.8 128.3,389.8 130.1,402.5 131.0,397.7 132.2,396.5 132.7,397.1 134.5,383.6 136.3,405.7 137.6,403.4 138.7,405.8 140.2,387.5 141.5,392.1 141.6,392.7 143.4,379.0 145.2,396.4 145.8,401.8 146.8,403.8 147.0,403.8 148.8,380.0 150.6,402.0 151.2,402.5 152.5,387.4 154.0,402.8 155.4,400.9 157.1,399.6 158.5,403.7 159.8,402.5 161.5,406.0 162.7,393.8 163.9,405.0 165.7,404.8 167.1,400.2 168.6,405.8 169.9,402.0 171.1,402.1 172.4,398.2 173.5,405.1 174.3,400.4 176.1,324.0 177.9,398.4 179.1,394.4 180.4,395.8 181.7,395.4 182.9,401.7 184.7,396.0 186.5,402.7 187.5,405.7 189.1,405.9 190.7,397.2 191.8,398.7 193.6,395.3 194.8,400.2 195.7,403.6 197.5,319.9 199.3,405.6 199.3,405.6 200.4,407.9 201.5,408.0 203.1,403.4 204.4,407.4 205.8,402.7 206.9,405.1 208.4,406.5 209.5,405.9 211.3,355.5 213.1,406.9 214.0,404.7 214.5,402.4 216.3,355.1 218.1,394.7 219.2,396.9 220.3,404.7 221.8,404.3 223.5,398.8 224.7,399.5 225.9,403.4 227.2,402.9 228.8,399.1 230.2,394.8 231.6,400.4 232.9,400.6 234.0,393.9 235.6,408.5 237.3,407.3 238.7,408.5 239.8,408.1 241.5,408.4 242.7,408.4 243.9,402.8 245.2,405.9 246.8,407.8 247.9,407.2 249.4,406.9 250.6,404.0 251.1,402.9 252.9,375.6 254.7,398.2 255.4,403.1 255.9,401.5 257.7,357.2 259.5,398.6 260.2,404.0 260.5,403.3 262.3,392.4 264.1,399.8 264.5,398.4 265.6,405.6 266.9,406.5 268.6,408.4 269.9,405.4 271.1,407.6 272.5,406.3 273.6,407.6 275.1,408.1 276.6,406.0 278.0,406.5 279.1,403.5 280.7,408.2 281.8,404.9 283.3,403.8 284.4,408.4 285.7,408.5 287.0,406.8 288.6,407.2 290.1,407.9 291.6,405.8 293.1,408.3 294.5,406.0 295.7,407.1 295.9,407.1 297.7,359.2 299.5,406.1 300.6,405.4 301.9,398.9 303.6,399.3 304.7,400.0 306.4,398.4 307.7,396.0 308.9,402.7 310.7,375.6 312.5,405.9 313.6,406.0 314.7,402.0 316.3,400.2 317.6,402.3 318.9,392.8 320.2,401.9 321.8,390.0 323.1,402.6 324.5,403.0 325.6,393.7 326.8,391.6 328.4,389.6 330.0,393.8 331.4,402.4 332.7,403.0 334.0,398.9 335.4,385.6 337.0,394.4 337.3,393.9 339.1,376.8 340.9,395.2 341.2,395.3 342.6,392.6 343.9,387.5 345.5,405.9 347.0,395.0 348.5,397.6 350.0,405.5 351.7,405.3 353.1,400.3 354.3,400.9 356.0,401.5 357.1,400.3 358.6,404.3 359.8,404.9 361.3,390.3 363.1,385.7 364.9,395.9 365.6,394.5 366.9,398.5 368.2,401.7 369.9,398.4 371.4,397.2 371.4,397.2 373.2,386.2 375.0,391.3 375.7,388.3 377.3,396.3 378.6,395.2 379.9,402.8 381.1,408.5 382.6,408.5 384.1,406.5 385.7,405.9 387.2,405.7 388.3,408.5 389.2,408.1 391.0,360.4 392.8,408.1 394.1,408.1 395.5,405.7 396.6,406.8 397.8,408.5 399.1,406.9 400.4,408.2 402.2,394.2 404.0,408.3 404.7,408.5 405.9,407.2 407.1,408.5 408.8,407.7 410.6,393.9 412.4,408.5 413.5,408.5 414.9,408.1 415.9,408.4 417.3,407.8 418.5,405.8 420.0,408.5 421.5,407.9 423.2,407.3 424.3,408.5 425.1,407.1 426.9,395.1 428.7,406.4 428.9,406.1 430.5,408.0 432.3,408.4 433.5,407.8 435.0,408.5 436.4,408.5 438.1,406.1 439.1,406.4 439.8,407.4 441.6,396.0 443.4,407.7 443.6,408.3 445.0,406.7 446.4,405.6 447.5,408.5 448.8,408.1 450.2,405.7 451.7,408.3 452.6,408.4 454.4,380.9 456.2,407.8 457.7,408.5 458.8,408.1 459.9,408.2 461.4,405.9 462.8,407.0 464.5,405.6 465.7,397.6 467.3,403.1 469.0,404.9 470.6,405.3 472.0,401.4 473.4,396.8 474.0,394.8 475.8,376.8 477.6,397.1 478.3,398.8 479.5,394.0 480.7,396.6 482.5,372.9 484.3,399.0 484.4,399.1 485.5,389.7 487.0,396.9 488.7,389.2 489.8,400.6 491.3,390.7 492.4,395.0 493.5,392.8 494.1,395.7 495.9,324.0 497.7,396.5 499.1,390.0 500.2,392.4 501.0,387.4 502.8,360.1 504.6,394.9 504.9,395.6 506.3,390.3 506.9,389.0 508.7,336.4 510.5,394.7 512.1,394.6 513.6,379.2 514.9,395.8 516.6,376.4 517.9,387.9 518.8,391.4 520.6,363.1 522.4,380.4 522.7,378.2 524.4,384.2 525.6,396.0 526.9,395.8 528.6,378.1 529.7,382.5 530.8,376.5 532.2,394.5 533.9,392.3 534.8,384.0 536.6,354.2 538.4,389.1 538.4,389.2 540.1,391.7 541.8,389.4 543.1,384.9 544.5,384.5 545.6,394.8 547.2,394.9 548.3,388.8 549.8,391.2 551.3,394.8 552.6,386.8 553.7,391.9 555.2,392.8 556.8,390.6 558.1,390.9 559.4,393.9 560.6,392.6 562.1,394.7 563.4,391.0 564.8,391.1 566.0,391.9 567.6,392.7 568.8,386.0 570.3,387.8 571.7,394.4 573.5,390.8 573.5,390.9 575.3,382.1 577.1,393.2 577.6,392.3 579.2,393.1 580.5,391.7 582.0,391.5 583.5,394.3 585.1,391.2 586.7,394.2 588.1,391.0 589.5,394.2 591.1,392.2 592.5,391.6 594.0,394.1 595.8,388.7 596.9,389.5 597.9,393.1 599.5,393.3 601.2,389.0 602.0,393.1 603.8,385.0 605.6,391.9 606.9,391.1 608.6,390.6 609.3,391.5 611.1,374.4 612.9,396.2 612.9,396.2 614.5,396.4 616.1,385.9 617.4,396.5 617.8,396.5 619.6,371.1 621.4,390.0 623.0,396.6 624.1,396.6 625.7,394.3 627.0,388.1 628.5,396.2 629.8,389.7 631.1,386.3 632.3,392.0 633.4,391.1 634.7,389.1 635.9,386.5 637.0,392.3 637.8,394.3 639.6,376.2 641.4,385.5 642.4,388.6 644.1,388.1 645.8,396.2 647.0,391.6 648.1,388.8 648.9,391.5 650.7,347.8 652.5,391.1 653.3,393.5 654.7,394.1 656.2,394.4 657.3,394.1 658.6,394.7 660.1,391.4 661.6,373.8 663.3,375.8 664.6,378.4 665.7,390.0 666.0,387.8 667.8,360.0 669.6,373.2 669.8,372.2 671.6,311.1 673.4,390.0 674.6,391.7 676.2,388.2 677.4,388.9 678.7,390.8 680.1,385.2 681.3,392.0 682.8,390.9 684.3,387.4 685.9,390.3 687.4,391.5 688.4,387.5 689.8,391.8 691.6,310.0 693.4,384.4 694.2,388.0 696.0,354.0 697.8,378.0 699.0,381.2 700.1,389.5 701.5,390.0 703.1,378.4 704.7,376.7 706.0,384.7 707.1,388.9 707.1,389.0 708.9,314.0 710.7,379.6 711.1,381.1 712.4,387.5 713.9,378.3 715.2,375.8 716.4,390.0 717.6,389.3 719.0,388.7 720.2,375.7 721.8,381.4 723.4,383.7 724.5,389.4 726.0,389.9 727.3,386.4 727.5,386.7 729.3,302.2 731.1,385.1 731.6,386.5 733.1,389.7 734.6,371.0 735.6,386.0 736.7,378.4 738.4,389.9 739.9,380.8 741.2,377.2 742.4,386.3 742.6,385.7 744.4,374.4 746.2,379.2 746.7,376.9 748.2,388.2 749.5,383.9 751.0,376.3 752.6,382.1 754.0,373.4 755.2,386.1 756.8,380.6 758.5,386.9 760.2,388.3 762.0,389.9 763.5,385.3 765.1,389.7 766.6,382.2 768.2,378.0 769.9,375.7 771.2,380.5 772.7,383.5 774.3,374.9 775.7,383.1 776.0,380.6 777.8,373.3 779.6,387.5 780.6,382.9 782.3,386.4 783.5,382.3 784.7,388.4 786.4,388.0 787.6,383.7 788.8,385.6 789.9,377.8 791.5,385.3 792.6,373.3 794.4,376.7 796.2,383.5 797.5,390.0 798.9,376.8 800.0,387.1 801.3,391.0 801.5,390.8 803.3,381.0 805.1,390.4 806.0,390.8 807.1,390.8 808.6,389.9 810.1,389.9 811.3,391.0 812.6,391.0 813.9,390.8 814.9,376.2 816.7,353.3 818.5,361.7 819.2,348.0 821.0,354.4 822.8,355.2 823.5,352.5 823.6,351.9 825.6,385.6 827.6,366.3 828.2,363.9 830.0,358.9 831.5,355.4 833.3,343.3 835.1,357.9 835.5,365.5 836.7,367.4 838.0,366.6 838.9,361.9 840.7,322.9 842.5,367.0 842.5,367.0 842.6,366.3 844.4,345.6 846.2,360.8 846.8,367.5 848.2,364.3 850.0,343.3 851.8,344.2 852.0,344.4 853.3,363.9 854.4,360.0 856.2,322.9 858.0,349.2 858.5,351.9 860.0,365.0 861.5,365.1 861.8,365.4 863.1,355.7 864.2,359.6 866.0,287.3 867.8,348.9 867.8,348.9 869.6,288.9 871.4,350.3 871.6,352.5 871.8,354.1 873.3,360.0 874.8,350.6 874.9,350.6 876.7,321.6 878.2,334.0 880.0,334.4 881.8,353.1 883.2,333.3 884.6,345.4 886.0,350.0 887.8,343.3 889.6,342.0 890.3,338.3 891.9,339.7 892.6,344.6 894.4,335.6 896.2,339.9 897.6,335.5 898.2,340.4 900.0,325.6 901.8,353.7 903.0,351.2 904.4,350.0 905.7,350.7 907.0,347.3 908.7,349.4 910.3,352.4 911.6,351.4 913.3,353.4 914.4,345.2 915.6,353.9 917.0,350.7 918.2,353.3 919.4,349.2 920.9,353.7 922.6,352.1 924.1,348.7 924.2,349.2 926.0,330.0 927.8,348.3 929.1,353.6 930.5,350.5 932.0,352.3 932.6,353.3 934.4,337.8 936.0,348.6 937.8,340.0 939.6,351.4 940.4,349.1 941.6,348.5 942.8,354.1 944.1,353.0 945.3,352.2 946.5,352.6 948.2,354.2 949.4,353.7 950.7,348.6 951.5,348.6 953.3,336.7 955.1,353.5 956.3,352.8 957.5,354.3 958.9,354.4 960.1,350.9 960.4,350.5 962.2,372.2 964.0,351.8 964.6,353.2 965.8,351.1 967.5,351.5 968.6,354.1 969.9,348.3 971.6,349.1 973.1,352.4 974.7,353.3 976.4,352.8 977.7,351.9 979.4,348.6 981.1,349.2 982.7,352.8 983.9,354.3 985.0,351.3 986.0,352.2 987.8,332.2 989.6,351.9 990.7,353.8 992.4,353.6 993.9,354.7 995.3,351.0 996.6,353.9 997.9,349.6 999.2,354.0 1000.3,347.2 1002.0,349.9 1003.3,352.9 1004.5,353.0 1005.7,353.6 1007.2,354.2 1008.6,353.0 1010.0,353.8 1011.7,354.0 1013.1,352.2 1014.4,349.8 1015.9,354.5 1016.3,354.5 1018.1,322.6 1019.9,354.4 1020.5,354.1 1022.1,349.2 1023.7,354.0 1025.1,350.2 1026.3,353.8 1027.4,354.9 1029.1,347.1 1029.7,348.5 1031.5,340.0 1033.3,342.9 1033.9,338.1 1035.7,352.9 1036.5,355.0 1037.9,353.8 1039.4,351.4 1040.8,353.6 1042.2,354.5 1043.9,351.2 1045.4,351.1 1047.1,347.7 1048.4,353.8 1050.1,352.8 1051.3,351.3 1052.5,351.3 1053.7,350.4 1055.2,349.4 1056.6,353.4 1058.0,349.6 1059.3,352.4 1060.6,352.5 1062.2,354.3 1063.4,355.1 1064.6,350.7 1065.9,354.9 1067.6,354.9 1068.2,355.0 1070.0,339.1 1071.8,354.7 1073.5,352.6 1075.1,354.7 1076.4,352.5 1078.0,352.0 1079.1,354.6 1080.2,354.9 1081.5,350.8 1082.7,355.4 1084.2,354.2 1085.6,354.6 1086.7,350.0 1087.8,355.2 1089.2,352.1 1090.4,351.4 1091.5,352.1 1092.8,354.6 1094.1,354.3 1095.2,350.2 1096.9,372.1 1098.3,372.3 1099.7,368.2 1101.1,367.1 1102.9,361.8 1104.7,367.9 1105.4,369.1 1106.6,371.9 1108.1,372.5 1109.8,370.1 1111.2,370.1 1112.6,367.6 1114.2,369.3 1115.3,371.1 1116.5,367.1 1117.8,368.1 1119.6,360.1 1121.4,370.7 1121.9,369.9 1123.5,370.6 1124.6,372.1 1125.7,372.5 1127.2,370.6 1128.9,370.1 1130.2,366.8 1130.5,367.3 1132.3,363.0 1134.1,370.6 1134.2,370.6 1135.3,367.6 1136.9,372.0 1138.0,370.7 1139.4,372.0 1140.8,372.2 1142.0,364.6 1143.1,367.7 1144.3,371.4 1145.3,368.4 1146.9,368.2 1148.2,367.1 1149.1,354.8 1150.9,329.8 1152.7,350.8 1153.4,350.1 1155.1,348.7 1156.8,350.0 1158.3,351.1 1159.6,347.1 1161.3,349.9 1162.7,348.6 1164.0,349.5 1165.6,350.4 1166.9,349.1 1168.0,348.5 1169.8,326.8 1171.6,348.7 1172.4,351.4 1174.1,351.3 1175.2,346.5 1176.4,349.4 1177.5,349.5 1178.9,349.9 1180.6,347.1 1181.6,345.5 1183.0,371.3 1184.6,371.6 1186.1,371.8 1187.8,372.3 1189.0,370.9 1190.6,370.9 1192.0,372.4 1193.6,371.4 1195.0,373.0 1196.3,372.8 1197.8,370.5 1198.9,371.7 1200.7,364.2 1202.5,370.5 1203.5,370.9 1204.9,370.9 1206.2,372.9 1207.5,372.8 1209.0,371.7 1210.5,372.3 1211.6,372.0 1212.9,372.9 1214.0,371.4 1215.6,370.4 1216.8,370.6 1218.1,372.4 1219.9,373.0 1221.6,372.8 1222.8,370.6" fill="none" stroke="#7eb26d" stroke-width="1.9" stroke-linejoin="round"/>
<polygon points="33.7,414.0 33.7,410.7 35.5,407.5 37.3,411.1 37.9,411.5 39.5,411.1 40.7,410.0 42.0,409.7 43.1,410.3 44.2,411.1 45.6,411.0 46.8,410.5 48.3,408.7 49.4,411.2 50.5,411.5 52.2,411.4 53.9,411.4 55.2,405.3 56.8,411.5 57.2,410.8 59.0,405.2 60.8,411.3 61.1,411.5 62.4,409.1 63.7,410.5 65.5,397.5 67.3,410.5 68.0,410.4 69.5,411.3 70.6,406.4 70.9,407.3 72.7,383.2 74.5,410.2 75.1,409.4 76.8,410.6 78.2,411.5 79.8,409.0 81.3,409.6 83.1,397.5 84.9,409.3 85.6,407.2 86.3,404.5 88.1,391.0 89.2,397.4 91.0,388.0 91.4,389.8 93.2,352.5 93.8,370.0 95.2,356.2 97.0,400.4 98.8,404.3 99.2,404.8 100.2,401.8 101.8,408.0 102.8,408.9 104.6,395.7 106.4,407.1 106.5,407.4 108.1,409.2 109.5,409.8 110.6,404.5 111.7,409.8 112.9,404.9 114.0,410.0 115.3,405.5 117.1,388.6 118.9,402.9 119.2,402.3 120.7,408.0 121.8,404.1 123.6,374.4 125.4,404.7 126.8,407.4 128.0,407.2 129.3,394.7 130.7,397.9 132.3,400.0 133.9,400.6 135.6,392.5 137.2,402.6 138.4,396.1 140.2,398.0 142.0,387.9 143.4,401.4 144.6,397.0 146.4,383.6 148.2,400.3 149.3,404.9 150.0,404.6 151.8,366.7 153.5,402.0 155.3,385.3 157.1,403.0 157.1,403.1 157.6,404.3 159.4,381.8 161.2,398.5 162.7,387.7 164.0,394.7 164.2,394.6 166.0,348.9 167.8,406.5 168.0,406.8 169.1,397.0 170.4,401.9 171.3,400.8 173.1,372.0 174.9,391.9 175.8,394.4 177.6,396.0 179.4,396.3 180.2,394.1 181.9,403.4 183.2,390.0 184.3,401.4 185.8,406.1 187.2,403.7 187.8,395.0 189.6,374.3 191.4,398.1 192.6,390.4 194.3,402.4 194.4,401.8 196.2,362.2 198.0,406.9 198.1,407.0 199.4,395.7 201.1,398.4 202.6,402.3 203.8,407.5 205.0,397.3 206.6,408.9 208.3,396.0 208.6,397.5 210.4,384.0 212.2,399.7 213.0,401.1 214.4,408.4 215.9,408.6 217.4,396.7 219.1,409.0 220.2,398.9 222.0,387.1 223.8,402.2 224.8,403.8 225.3,404.6 227.1,399.9 228.9,402.6 229.6,399.3 231.1,410.6 232.2,411.4 233.8,409.0 235.3,410.7 236.5,411.0 238.2,411.4 239.8,410.7 241.3,410.0 242.5,408.5 243.6,411.1 245.2,410.2 246.4,410.9 247.8,409.6 248.9,409.1 250.0,405.3 251.5,411.1 252.8,409.9 254.4,411.4 255.6,411.5 256.8,403.6 258.1,409.2 259.5,411.2 260.7,407.8 262.3,411.5 263.8,410.2 265.2,407.9 266.9,411.4 268.4,411.4 270.0,411.4 271.6,408.4 272.4,408.6 274.2,404.9 276.0,411.0 276.4,411.1 277.6,411.2 278.9,410.0 280.6,408.8 282.3,409.3 283.6,410.0 285.3,411.2 286.5,411.0 287.9,411.3 289.6,411.3 291.2,410.6 292.4,408.0 293.9,410.9 295.2,409.7 295.9,406.7 297.7,381.8 299.5,406.8 300.1,409.4 301.6,406.7 302.8,400.8 304.1,406.4 305.8,404.6 307.3,409.5 308.5,401.7 309.6,400.3 311.1,409.3 312.7,402.1 314.3,405.9 316.0,403.4 317.1,403.6 318.5,401.9 318.6,401.1 320.4,376.8 322.2,391.4 322.2,391.2 323.7,400.4 325.0,398.1 326.2,398.5 326.6,398.3 328.4,380.0 330.2,401.8 330.9,400.0 332.0,393.7 332.0,394.0 333.8,388.9 335.6,384.2 336.5,384.3 337.7,398.5 339.0,397.1 340.1,403.3 341.8,387.0 343.6,356.5 345.4,402.4 345.9,404.3 347.1,399.9 348.5,387.3 349.7,399.9 351.2,386.0 352.3,405.6 352.4,405.1 354.2,307.5 356.0,392.9 357.4,393.6 359.1,386.5 360.2,405.3 361.3,396.6 362.4,405.5 363.7,388.6 365.1,406.0 366.3,404.0 367.5,402.3 369.2,405.9 370.7,395.3 371.1,395.0 372.9,386.2 374.7,401.4 375.2,401.4 376.6,405.7 378.2,400.6 378.6,399.6 380.4,379.1 382.2,390.3 383.3,386.0 384.4,387.4 386.0,411.1 387.2,411.5 388.4,409.5 390.0,408.6 391.2,409.1 392.6,409.4 393.8,410.2 395.5,409.8 397.1,411.4 398.5,411.1 399.9,411.5 401.0,410.6 402.3,411.0 403.8,411.1 405.4,411.5 406.9,408.6 408.4,409.6 410.2,410.0 411.9,411.3 413.2,411.5 414.7,411.4 416.0,410.0 417.6,410.1 419.1,410.2 420.4,410.7 421.5,411.3 423.1,408.6 424.8,408.6 426.3,411.5 427.9,411.1 429.0,408.9 429.2,409.2 431.0,393.3 432.8,410.4 433.4,410.0 435.0,411.5 436.7,411.5 438.0,411.5 439.8,411.4 441.4,405.7 442.9,411.5 444.5,410.4 446.2,411.4 447.6,409.0 449.1,408.8 450.4,408.7 451.5,409.3 452.7,411.3 454.3,411.5 455.9,408.6 457.6,411.5 458.5,411.5 460.3,393.3 461.2,401.9 463.0,387.1 464.8,407.1 465.7,411.4 467.0,410.9 468.1,410.8 469.6,409.3 471.2,411.3 472.8,404.0 473.9,409.2 475.3,410.7 476.4,409.3 477.6,411.4 479.2,411.3 480.8,411.2 482.3,411.1 483.6,410.6 484.6,409.3 486.4,317.4 488.2,410.6 488.8,410.9 489.9,410.1 491.3,409.9 492.4,410.3 493.7,408.9 495.3,410.2 496.8,410.1 498.0,387.3 499.4,396.4 500.6,385.9 501.9,397.6 502.1,398.6 503.9,382.7 505.7,401.0 505.9,401.4 507.0,405.4 508.7,384.9 510.1,404.8 511.3,389.7 512.9,401.3 514.0,404.1 515.8,366.7 517.6,388.7 518.8,391.9 520.0,390.4 521.1,397.1 522.9,373.8 524.7,390.3 525.3,387.2 526.5,405.4 527.8,406.0 529.5,402.0 530.5,391.2 532.3,372.5 534.1,391.3 535.6,405.4 537.4,403.2 538.7,388.7 540.4,394.4 542.0,404.9 542.4,402.9 544.2,327.6 546.0,388.5 546.7,386.1 547.8,405.0 548.9,387.9 550.0,387.1 551.3,403.2 552.7,397.8 554.0,388.4 555.7,401.4 557.1,402.2 558.2,398.3 559.4,399.0 560.7,402.3 562.5,406.3 563.6,403.3 565.3,405.5 566.5,402.7 568.3,407.0 570.0,407.0 571.6,401.4 573.3,405.9 574.4,404.4 575.9,400.9 577.2,401.0 578.4,406.2 579.9,405.6 581.2,404.8 582.4,406.9 583.3,404.5 585.1,372.0 586.9,404.1 586.9,404.1 588.7,365.8 590.5,401.6 591.2,401.2 593.0,404.2 594.1,403.8 595.8,403.1 597.3,406.5 598.7,402.4 600.1,405.9 601.5,408.1 603.3,385.6 605.1,407.1 605.7,406.9 607.3,400.9 608.2,403.0 610.0,393.3 611.8,406.2 613.1,408.7 614.3,406.4 615.7,405.3 617.2,405.2 618.4,408.5 619.7,406.2 620.8,403.6 622.5,407.9 623.6,405.5 625.1,403.6 626.6,408.8 627.8,407.5 629.2,405.6 630.3,408.9 631.7,408.0 632.9,407.6 634.5,409.0 636.1,406.7 637.8,407.3 639.0,406.7 640.1,406.8 641.4,408.5 642.9,404.3 644.6,404.9 646.2,408.9 648.0,405.9 648.9,405.6 650.7,390.0 652.5,404.4 653.3,406.9 654.6,405.3 655.9,402.5 656.9,407.0 658.6,407.7 660.2,400.0 661.5,399.9 663.3,374.4 665.1,384.9 665.3,380.7 666.6,378.6 668.0,401.7 669.6,388.0 669.8,389.7 671.6,354.4 673.4,383.7 674.5,380.5 676.3,383.7 676.4,385.3 678.2,327.3 680.0,398.8 680.3,399.7 681.7,380.2 683.4,396.8 684.9,387.3 686.3,398.0 686.6,397.4 688.4,374.4 690.2,387.4 691.4,396.7 692.6,382.9 694.1,387.5 695.8,380.7 697.3,382.5 698.8,385.1 699.8,394.2 701.0,386.5 702.6,382.8 702.6,382.8 704.4,345.6 706.2,395.8 706.8,390.3 707.1,390.8 708.9,344.4 710.7,386.4 711.0,387.1 712.2,392.1 713.8,404.8 715.4,395.9 716.5,396.9 717.6,386.8 717.8,388.5 719.6,348.2 721.4,388.4 722.6,397.1 723.8,389.4 725.6,361.1 727.4,399.8 728.8,399.1 730.4,403.0 731.7,394.7 733.5,380.2 734.2,385.8 736.0,360.0 737.8,384.5 738.6,387.0 740.1,391.1 741.3,385.7 742.9,390.9 744.6,391.6 745.9,402.9 747.6,392.8 749.1,405.4 749.8,393.9 751.6,283.3 753.4,403.8 754.6,405.5 755.7,389.1 757.1,399.0 758.9,363.3 760.7,394.2 762.1,395.6 763.3,403.8 764.9,402.2 766.4,383.9 768.2,402.0 769.3,404.6 771.0,384.5 772.0,398.8 773.8,378.9 775.6,400.2 776.7,404.9 777.9,393.9 779.2,404.0 780.3,403.4 781.5,395.6 783.3,346.7 785.1,380.8 786.7,396.8 787.8,406.0 789.2,405.7 790.3,409.8 791.8,408.3 792.0,408.5 793.8,383.3 795.6,408.4 796.5,407.3 797.7,407.5 799.0,409.5 800.4,409.4 801.9,403.8 803.5,406.2 804.9,406.1 806.4,408.8 807.6,407.6 808.8,409.0 810.1,404.3 811.3,408.7 812.4,408.6 812.6,408.6 814.4,398.9 816.2,407.1 817.0,408.6 818.5,407.4 820.1,404.9 821.4,403.6 822.8,404.3 824.1,406.2 825.3,407.7 826.8,406.8 828.1,407.3 829.3,406.7 829.3,406.3 831.1,381.1 832.9,386.6 833.7,393.6 835.2,389.9 836.9,396.1 838.3,391.1 839.4,379.6 840.7,394.9 842.2,375.4 842.6,375.5 844.4,390.0 846.2,391.4 846.6,392.9 848.2,379.8 848.6,384.6 850.4,342.2 852.2,368.0 852.2,367.5 852.6,374.0 854.4,381.1 856.2,381.4 856.7,381.4 857.1,380.0 858.9,365.6 860.7,388.3 861.3,395.5 861.5,395.3 863.3,370.0 865.1,372.3 865.6,371.6 867.1,393.0 868.9,376.7 870.7,380.2 871.7,382.3 872.6,387.8 874.4,352.2 876.2,396.5 876.3,396.7 878.0,396.7 879.3,370.6 881.1,372.2 882.9,392.5 883.0,393.9 884.6,396.0 886.1,395.5 886.3,393.8 887.8,397.0 889.3,391.6 890.8,366.4 892.5,383.7 893.1,379.8 894.9,362.2 896.7,374.1 898.2,388.3 899.3,394.7 901.1,348.9 902.9,384.9 903.6,387.6 903.8,388.3 905.0,410.0 906.2,392.6 907.4,388.8 908.2,395.2 910.0,391.1 911.8,398.7 912.7,392.3 913.8,399.3 915.0,390.7 916.6,398.2 917.1,399.8 918.9,373.3 920.7,385.0 920.8,382.7 921.5,395.1 923.3,357.8 925.1,384.2 925.2,383.0 925.5,382.7 927.3,348.9 929.1,392.0 929.6,396.5 930.7,402.2 932.3,400.8 932.6,400.2 934.4,370.0 935.2,383.7 936.7,408.0 938.2,405.6 938.4,406.2 940.0,405.9 941.4,405.0 942.6,406.6 944.3,399.6 946.1,402.3 947.5,407.0 948.6,401.7 949.9,400.4 951.1,407.0 952.7,403.6 953.9,405.7 954.4,404.4 956.2,384.4 958.0,402.1 959.0,402.5 960.6,395.1 961.9,407.0 962.6,404.8 964.4,386.7 966.2,408.1 967.2,411.5 968.8,411.9 970.4,411.6 971.6,412.1 973.3,411.3 974.4,412.3 975.8,412.1 976.9,411.5 978.1,411.0 979.5,411.8 980.9,411.2 982.6,411.0 982.6,411.0 984.4,400.0 986.2,411.3 987.2,411.3 988.3,412.1 989.8,412.0 991.5,411.5 992.8,412.3 994.5,411.8 996.0,412.2 997.3,411.7 998.9,411.1 1000.6,411.7 1001.8,412.3 1003.2,412.2 1004.6,412.3 1006.0,411.3 1007.6,412.1 1009.1,411.5 1010.9,395.7 1012.7,411.3 1013.0,411.2 1014.4,410.7 1016.0,412.3 1016.3,412.1 1018.1,402.9 1019.9,411.3 1020.7,410.5 1021.7,411.4 1023.0,411.5 1023.1,411.5 1024.9,346.3 1026.7,410.8 1026.9,410.8 1028.1,412.3 1029.4,411.6 1029.7,411.7 1031.5,397.8 1033.3,412.2 1033.8,412.3 1035.1,412.1 1036.2,411.2 1037.8,411.9 1038.5,411.8 1040.3,401.9 1042.1,411.1 1043.1,412.3 1044.2,410.7 1045.3,407.0 1046.4,410.0 1048.0,411.6 1049.1,411.7 1050.7,410.9 1052.3,411.8 1053.8,411.0 1055.1,410.9 1056.2,411.0 1057.3,412.3 1058.8,411.5 1060.2,412.3 1061.6,410.3 1063.1,411.4 1064.6,412.3 1065.8,411.9 1067.4,407.4 1068.5,412.3 1069.9,411.8 1071.4,410.6 1072.8,412.0 1074.2,410.9 1075.4,412.3 1077.2,411.5 1078.9,412.2 1080.4,410.4 1081.6,410.5 1083.3,412.1 1084.8,410.3 1086.3,412.3 1087.4,410.6 1089.1,412.3 1090.6,411.1 1091.7,406.4 1093.1,411.6 1094.3,412.1 1095.6,411.2 1097.0,411.7 1098.8,410.9 1100.2,411.6 1101.4,411.9 1102.7,411.7 1104.5,405.4 1106.3,411.3 1107.6,410.8 1109.2,412.1 1110.5,409.7 1112.1,410.9 1113.2,412.2 1114.1,412.1 1115.9,407.0 1117.7,411.7 1117.8,411.7 1119.1,410.8 1120.6,411.5 1121.7,412.1 1123.2,411.1 1124.6,411.1 1126.1,411.1 1127.7,412.3 1129.3,411.3 1130.7,411.5 1132.4,412.3 1133.9,412.3 1135.0,411.5 1136.1,412.3 1137.4,411.8 1138.7,412.3 1140.3,412.2 1141.7,412.2 1142.8,412.2 1144.1,412.3 1145.3,410.5 1146.5,412.1 1148.1,411.0 1149.5,411.7 1151.2,411.1 1152.3,410.3 1153.9,411.2 1155.6,411.2 1157.1,407.9 1158.2,410.8 1159.4,411.2 1160.6,411.8 1162.4,409.8 1164.0,411.5 1165.4,411.9 1166.7,411.0 1167.8,412.3 1169.1,408.5 1170.7,412.1 1172.0,412.2 1173.4,411.4 1174.7,412.3 1176.4,412.0 1177.6,412.2 1179.3,412.2 1180.5,411.9 1181.8,412.3 1183.3,407.6 1184.6,410.7 1186.1,411.1 1187.2,411.6 1188.8,411.6 1190.4,410.9 1192.1,410.7 1193.4,412.3 1194.6,411.9 1195.4,412.0 1197.2,398.8 1199.0,412.0 1200.0,411.5 1200.5,411.2 1202.3,400.0 1204.0,410.5 1205.8,381.3 1207.6,410.2 1208.5,411.6 1209.7,411.8 1211.2,410.4 1212.9,411.1 1214.5,411.4 1216.2,412.3 1217.8,412.3 1219.0,412.0 1220.8,402.9 1222.6,411.5 1223.3,410.7 1223.3,414.0" fill="#eab839" fill-opacity="0.1" stroke="none"/>
<polyline points="33.7,410.7 35.5,407.5 37.3,411.1 37.9,411.5 39.5,411.1 40.7,410.0 42.0,409.7 43.1,410.3 44.2,411.1 45.6,411.0 46.8,410.5 48.3,408.7 49.4,411.2 50.5,411.5 52.2,411.4 53.9,411.4 55.2,405.3 56.8,411.5 57.2,410.8 59.0,405.2 60.8,411.3 61.1,411.5 62.4,409.1 63.7,410.5 65.5,397.5 67.3,410.5 68.0,410.4 69.5,411.3 70.6,406.4 70.9,407.3 72.7,383.2 74.5,410.2 75.1,409.4 76.8,410.6 78.2,411.5 79.8,409.0 81.3,409.6 83.1,397.5 84.9,409.3 85.6,407.2 86.3,404.5 88.1,391.0 89.2,397.4 91.0,388.0 91.4,389.8 93.2,352.5 93.8,370.0 95.2,356.2 97.0,400.4 98.8,404.3 99.2,404.8 100.2,401.8 101.8,408.0 102.8,408.9 104.6,395.7 106.4,407.1 106.5,407.4 108.1,409.2 109.5,409.8 110.6,404.5 111.7,409.8 112.9,404.9 114.0,410.0 115.3,405.5 117.1,388.6 118.9,402.9 119.2,402.3 120.7,408.0 121.8,404.1 123.6,374.4 125.4,404.7 126.8,407.4 128.0,407.2 129.3,394.7 130.7,397.9 132.3,400.0 133.9,400.6 135.6,392.5 137.2,402.6 138.4,396.1 140.2,398.0 142.0,387.9 143.4,401.4 144.6,397.0 146.4,383.6 148.2,400.3 149.3,404.9 150.0,404.6 151.8,366.7 153.5,402.0 155.3,385.3 157.1,403.0 157.1,403.1 157.6,404.3 159.4,381.8 161.2,398.5 162.7,387.7 164.0,394.7 164.2,394.6 166.0,348.9 167.8,406.5 168.0,406.8 169.1,397.0 170.4,401.9 171.3,400.8 173.1,372.0 174.9,391.9 175.8,394.4 177.6,396.0 179.4,396.3 180.2,394.1 181.9,403.4 183.2,390.0 184.3,401.4 185.8,406.1 187.2,403.7 187.8,395.0 189.6,374.3 191.4,398.1 192.6,390.4 194.3,402.4 194.4,401.8 196.2,362.2 198.0,406.9 198.1,407.0 199.4,395.7 201.1,398.4 202.6,402.3 203.8,407.5 205.0,397.3 206.6,408.9 208.3,396.0 208.6,397.5 210.4,384.0 212.2,399.7 213.0,401.1 214.4,408.4 215.9,408.6 217.4,396.7 219.1,409.0 220.2,398.9 222.0,387.1 223.8,402.2 224.8,403.8 225.3,404.6 227.1,399.9 228.9,402.6 229.6,399.3 231.1,410.6 232.2,411.4 233.8,409.0 235.3,410.7 236.5,411.0 238.2,411.4 239.8,410.7 241.3,410.0 242.5,408.5 243.6,411.1 245.2,410.2 246.4,410.9 247.8,409.6 248.9,409.1 250.0,405.3 251.5,411.1 252.8,409.9 254.4,411.4 255.6,411.5 256.8,403.6 258.1,409.2 259.5,411.2 260.7,407.8 262.3,411.5 263.8,410.2 265.2,407.9 266.9,411.4 268.4,411.4 270.0,411.4 271.6,408.4 272.4,408.6 274.2,404.9 276.0,411.0 276.4,411.1 277.6,411.2 278.9,410.0 280.6,408.8 282.3,409.3 283.6,410.0 285.3,411.2 286.5,411.0 287.9,411.3 289.6,411.3 291.2,410.6 292.4,408.0 293.9,410.9 295.2,409.7 295.9,406.7 297.7,381.8 299.5,406.8 300.1,409.4 301.6,406.7 302.8,400.8 304.1,406.4 305.8,404.6 307.3,409.5 308.5,401.7 309.6,400.3 311.1,409.3 312.7,402.1 314.3,405.9 316.0,403.4 317.1,403.6 318.5,401.9 318.6,401.1 320.4,376.8 322.2,391.4 322.2,391.2 323.7,400.4 325.0,398.1 326.2,398.5 326.6,398.3 328.4,380.0 330.2,401.8 330.9,400.0 332.0,393.7 332.0,394.0 333.8,388.9 335.6,384.2 336.5,384.3 337.7,398.5 339.0,397.1 340.1,403.3 341.8,387.0 343.6,356.5 345.4,402.4 345.9,404.3 347.1,399.9 348.5,387.3 349.7,399.9 351.2,386.0 352.3,405.6 352.4,405.1 354.2,307.5 356.0,392.9 357.4,393.6 359.1,386.5 360.2,405.3 361.3,396.6 362.4,405.5 363.7,388.6 365.1,406.0 366.3,404.0 367.5,402.3 369.2,405.9 370.7,395.3 371.1,395.0 372.9,386.2 374.7,401.4 375.2,401.4 376.6,405.7 378.2,400.6 378.6,399.6 380.4,379.1 382.2,390.3 383.3,386.0 384.4,387.4 386.0,411.1 387.2,411.5 388.4,409.5 390.0,408.6 391.2,409.1 392.6,409.4 393.8,410.2 395.5,409.8 397.1,411.4 398.5,411.1 399.9,411.5 401.0,410.6 402.3,411.0 403.8,411.1 405.4,411.5 406.9,408.6 408.4,409.6 410.2,410.0 411.9,411.3 413.2,411.5 414.7,411.4 416.0,410.0 417.6,410.1 419.1,410.2 420.4,410.7 421.5,411.3 423.1,408.6 424.8,408.6 426.3,411.5 427.9,411.1 429.0,408.9 429.2,409.2 431.0,393.3 432.8,410.4 433.4,410.0 435.0,411.5 436.7,411.5 438.0,411.5 439.8,411.4 441.4,405.7 442.9,411.5 444.5,410.4 446.2,411.4 447.6,409.0 449.1,408.8 450.4,408.7 451.5,409.3 452.7,411.3 454.3,411.5 455.9,408.6 457.6,411.5 458.5,411.5 460.3,393.3 461.2,401.9 463.0,387.1 464.8,407.1 465.7,411.4 467.0,410.9 468.1,410.8 469.6,409.3 471.2,411.3 472.8,404.0 473.9,409.2 475.3,410.7 476.4,409.3 477.6,411.4 479.2,411.3 480.8,411.2 482.3,411.1 483.6,410.6 484.6,409.3 486.4,317.4 488.2,410.6 488.8,410.9 489.9,410.1 491.3,409.9 492.4,410.3 493.7,408.9 495.3,410.2 496.8,410.1 498.0,387.3 499.4,396.4 500.6,385.9 501.9,397.6 502.1,398.6 503.9,382.7 505.7,401.0 505.9,401.4 507.0,405.4 508.7,384.9 510.1,404.8 511.3,389.7 512.9,401.3 514.0,404.1 515.8,366.7 517.6,388.7 518.8,391.9 520.0,390.4 521.1,397.1 522.9,373.8 524.7,390.3 525.3,387.2 526.5,405.4 527.8,406.0 529.5,402.0 530.5,391.2 532.3,372.5 534.1,391.3 535.6,405.4 537.4,403.2 538.7,388.7 540.4,394.4 542.0,404.9 542.4,402.9 544.2,327.6 546.0,388.5 546.7,386.1 547.8,405.0 548.9,387.9 550.0,387.1 551.3,403.2 552.7,397.8 554.0,388.4 555.7,401.4 557.1,402.2 558.2,398.3 559.4,399.0 560.7,402.3 562.5,406.3 563.6,403.3 565.3,405.5 566.5,402.7 568.3,407.0 570.0,407.0 571.6,401.4 573.3,405.9 574.4,404.4 575.9,400.9 577.2,401.0 578.4,406.2 579.9,405.6 581.2,404.8 582.4,406.9 583.3,404.5 585.1,372.0 586.9,404.1 586.9,404.1 588.7,365.8 590.5,401.6 591.2,401.2 593.0,404.2 594.1,403.8 595.8,403.1 597.3,406.5 598.7,402.4 600.1,405.9 601.5,408.1 603.3,385.6 605.1,407.1 605.7,406.9 607.3,400.9 608.2,403.0 610.0,393.3 611.8,406.2 613.1,408.7 614.3,406.4 615.7,405.3 617.2,405.2 618.4,408.5 619.7,406.2 620.8,403.6 622.5,407.9 623.6,405.5 625.1,403.6 626.6,408.8 627.8,407.5 629.2,405.6 630.3,408.9 631.7,408.0 632.9,407.6 634.5,409.0 636.1,406.7 637.8,407.3 639.0,406.7 640.1,406.8 641.4,408.5 642.9,404.3 644.6,404.9 646.2,408.9 648.0,405.9 648.9,405.6 650.7,390.0 652.5,404.4 653.3,406.9 654.6,405.3 655.9,402.5 656.9,407.0 658.6,407.7 660.2,400.0 661.5,399.9 663.3,374.4 665.1,384.9 665.3,380.7 666.6,378.6 668.0,401.7 669.6,388.0 669.8,389.7 671.6,354.4 673.4,383.7 674.5,380.5 676.3,383.7 676.4,385.3 678.2,327.3 680.0,398.8 680.3,399.7 681.7,380.2 683.4,396.8 684.9,387.3 686.3,398.0 686.6,397.4 688.4,374.4 690.2,387.4 691.4,396.7 692.6,382.9 694.1,387.5 695.8,380.7 697.3,382.5 698.8,385.1 699.8,394.2 701.0,386.5 702.6,382.8 702.6,382.8 704.4,345.6 706.2,395.8 706.8,390.3 707.1,390.8 708.9,344.4 710.7,386.4 711.0,387.1 712.2,392.1 713.8,404.8 715.4,395.9 716.5,396.9 717.6,386.8 717.8,388.5 719.6,348.2 721.4,388.4 722.6,397.1 723.8,389.4 725.6,361.1 727.4,399.8 728.8,399.1 730.4,403.0 731.7,394.7 733.5,380.2 734.2,385.8 736.0,360.0 737.8,384.5 738.6,387.0 740.1,391.1 741.3,385.7 742.9,390.9 744.6,391.6 745.9,402.9 747.6,392.8 749.1,405.4 749.8,393.9 751.6,283.3 753.4,403.8 754.6,405.5 755.7,389.1 757.1,399.0 758.9,363.3 760.7,394.2 762.1,395.6 763.3,403.8 764.9,402.2 766.4,383.9 768.2,402.0 769.3,404.6 771.0,384.5 772.0,398.8 773.8,378.9 775.6,400.2 776.7,404.9 777.9,393.9 779.2,404.0 780.3,403.4 781.5,395.6 783.3,346.7 785.1,380.8 786.7,396.8 787.8,406.0 789.2,405.7 790.3,409.8 791.8,408.3 792.0,408.5 793.8,383.3 795.6,408.4 796.5,407.3 797.7,407.5 799.0,409.5 800.4,409.4 801.9,403.8 803.5,406.2 804.9,406.1 806.4,408.8 807.6,407.6 808.8,409.0 810.1,404.3 811.3,408.7 812.4,408.6 812.6,408.6 814.4,398.9 816.2,407.1 817.0,408.6 818.5,407.4 820.1,404.9 821.4,403.6 822.8,404.3 824.1,406.2 825.3,407.7 826.8,406.8 828.1,407.3 829.3,406.7 829.3,406.3 831.1,381.1 832.9,386.6 833.7,393.6 835.2,389.9 836.9,396.1 838.3,391.1 839.4,379.6 840.7,394.9 842.2,375.4 842.6,375.5 844.4,390.0 846.2,391.4 846.6,392.9 848.2,379.8 848.6,384.6 850.4,342.2 852.2,368.0 852.2,367.5 852.6,374.0 854.4,381.1 856.2,381.4 856.7,381.4 857.1,380.0 858.9,365.6 860.7,388.3 861.3,395.5 861.5,395.3 863.3,370.0 865.1,372.3 865.6,371.6 867.1,393.0 868.9,376.7 870.7,380.2 871.7,382.3 872.6,387.8 874.4,352.2 876.2,396.5 876.3,396.7 878.0,396.7 879.3,370.6 881.1,372.2 882.9,392.5 883.0,393.9 884.6,396.0 886.1,395.5 886.3,393.8 887.8,397.0 889.3,391.6 890.8,366.4 892.5,383.7 893.1,379.8 894.9,362.2 896.7,374.1 898.2,388.3 899.3,394.7 901.1,348.9 902.9,384.9 903.6,387.6 903.8,388.3 905.0,410.0 906.2,392.6 907.4,388.8 908.2,395.2 910.0,391.1 911.8,398.7 912.7,392.3 913.8,399.3 915.0,390.7 916.6,398.2 917.1,399.8 918.9,373.3 920.7,385.0 920.8,382.7 921.5,395.1 923.3,357.8 925.1,384.2 925.2,383.0 925.5,382.7 927.3,348.9 929.1,392.0 929.6,396.5 930.7,402.2 932.3,400.8 932.6,400.2 934.4,370.0 935.2,383.7 936.7,408.0 938.2,405.6 938.4,406.2 940.0,405.9 941.4,405.0 942.6,406.6 944.3,399.6 946.1,402.3 947.5,407.0 948.6,401.7 949.9,400.4 951.1,407.0 952.7,403.6 953.9,405.7 954.4,404.4 956.2,384.4 958.0,402.1 959.0,402.5 960.6,395.1 961.9,407.0 962.6,404.8 964.4,386.7 966.2,408.1 967.2,411.5 968.8,411.9 970.4,411.6 971.6,412.1 973.3,411.3 974.4,412.3 975.8,412.1 976.9,411.5 978.1,411.0 979.5,411.8 980.9,411.2 982.6,411.0 982.6,411.0 984.4,400.0 986.2,411.3 987.2,411.3 988.3,412.1 989.8,412.0 991.5,411.5 992.8,412.3 994.5,411.8 996.0,412.2 997.3,411.7 998.9,411.1 1000.6,411.7 1001.8,412.3 1003.2,412.2 1004.6,412.3 1006.0,411.3 1007.6,412.1 1009.1,411.5 1010.9,395.7 1012.7,411.3 1013.0,411.2 1014.4,410.7 1016.0,412.3 1016.3,412.1 1018.1,402.9 1019.9,411.3 1020.7,410.5 1021.7,411.4 1023.0,411.5 1023.1,411.5 1024.9,346.3 1026.7,410.8 1026.9,410.8 1028.1,412.3 1029.4,411.6 1029.7,411.7 1031.5,397.8 1033.3,412.2 1033.8,412.3 1035.1,412.1 1036.2,411.2 1037.8,411.9 1038.5,411.8 1040.3,401.9 1042.1,411.1 1043.1,412.3 1044.2,410.7 1045.3,407.0 1046.4,410.0 1048.0,411.6 1049.1,411.7 1050.7,410.9 1052.3,411.8 1053.8,411.0 1055.1,410.9 1056.2,411.0 1057.3,412.3 1058.8,411.5 1060.2,412.3 1061.6,410.3 1063.1,411.4 1064.6,412.3 1065.8,411.9 1067.4,407.4 1068.5,412.3 1069.9,411.8 1071.4,410.6 1072.8,412.0 1074.2,410.9 1075.4,412.3 1077.2,411.5 1078.9,412.2 1080.4,410.4 1081.6,410.5 1083.3,412.1 1084.8,410.3 1086.3,412.3 1087.4,410.6 1089.1,412.3 1090.6,411.1 1091.7,406.4 1093.1,411.6 1094.3,412.1 1095.6,411.2 1097.0,411.7 1098.8,410.9 1100.2,411.6 1101.4,411.9 1102.7,411.7 1104.5,405.4 1106.3,411.3 1107.6,410.8 1109.2,412.1 1110.5,409.7 1112.1,410.9 1113.2,412.2 1114.1,412.1 1115.9,407.0 1117.7,411.7 1117.8,411.7 1119.1,410.8 1120.6,411.5 1121.7,412.1 1123.2,411.1 1124.6,411.1 1126.1,411.1 1127.7,412.3 1129.3,411.3 1130.7,411.5 1132.4,412.3 1133.9,412.3 1135.0,411.5 1136.1,412.3 1137.4,411.8 1138.7,412.3 1140.3,412.2 1141.7,412.2 1142.8,412.2 1144.1,412.3 1145.3,410.5 1146.5,412.1 1148.1,411.0 1149.5,411.7 1151.2,411.1 1152.3,410.3 1153.9,411.2 1155.6,411.2 1157.1,407.9 1158.2,410.8 1159.4,411.2 1160.6,411.8 1162.4,409.8 1164.0,411.5 1165.4,411.9 1166.7,411.0 1167.8,412.3 1169.1,408.5 1170.7,412.1 1172.0,412.2 1173.4,411.4 1174.7,412.3 1176.4,412.0 1177.6,412.2 1179.3,412.2 1180.5,411.9 1181.8,412.3 1183.3,407.6 1184.6,410.7 1186.1,411.1 1187.2,411.6 1188.8,411.6 1190.4,410.9 1192.1,410.7 1193.4,412.3 1194.6,411.9 1195.4,412.0 1197.2,398.8 1199.0,412.0 1200.0,411.5 1200.5,411.2 1202.3,400.0 1204.0,410.5 1205.8,381.3 1207.6,410.2 1208.5,411.6 1209.7,411.8 1211.2,410.4 1212.9,411.1 1214.5,411.4 1216.2,412.3 1217.8,412.3 1219.0,412.0 1220.8,402.9 1222.6,411.5 1223.3,410.7" fill="none" stroke="#eab839" stroke-width="1.9" stroke-linejoin="round"/>
<polygon points="35.0,414.0 35.0,413.9 334.3,413.9 335.6,410.5 336.9,413.9 626.2,413.9 627.8,367.8 629.4,413.9 630.7,413.9 632.0,410.8 633.3,413.9 789.8,413.9 791.1,403.3 792.4,413.9 855.4,413.9 856.7,411.0 858.0,413.9 859.8,413.9 861.1,410.0 862.4,413.9 903.3,413.9 904.9,329.6 906.5,413.9 1009.6,413.9 1010.9,411.2 1012.2,413.9 1195.9,413.9 1197.2,411.0 1198.5,413.9 1223.5,413.9 1223.5,414.0" fill="#6ed0e0" fill-opacity="0.1" stroke="none"/>
<polyline points="35.0,413.9 334.3,413.9 335.6,410.5 336.9,413.9 626.2,413.9 627.8,367.8 629.4,413.9 630.7,413.9 632.0,410.8 633.3,413.9 789.8,413.9 791.1,403.3 792.4,413.9 855.4,413.9 856.7,411.0 858.0,413.9 859.8,413.9 861.1,410.0 862.4,413.9 903.3,413.9 904.9,329.6 906.5,413.9 1009.6,413.9 1010.9,411.2 1012.2,413.9 1195.9,413.9 1197.2,411.0 1198.5,413.9 1223.5,413.9" fill="none" stroke="#6ed0e0" stroke-width="2.0" stroke-linejoin="round"/>
<polygon points="49.7,651.2 49.7,650.5 51.0,648.6 52.9,650.6 54.6,650.6 56.4,650.5 57.7,650.6 59.5,647.9 61.3,650.5 62.4,650.6 64.2,650.5 65.6,650.6 67.5,650.6 69.4,650.6 71.0,650.6 72.9,650.6 74.2,650.5 75.5,650.6 77.2,650.6 78.8,650.3 80.3,650.4 82.0,650.6 83.9,650.6 85.6,650.6 87.6,650.2 89.4,650.2 91.1,650.6 92.8,650.5 94.1,650.6 95.7,650.5 97.7,648.0 99.2,650.5 100.7,650.6 102.4,650.6 103.7,650.4 105.3,650.4 107.0,650.5 109.0,650.5 110.9,650.5 112.2,650.3 113.5,650.2 115.4,650.2 116.0,650.4 117.8,645.4 119.6,650.6 119.6,650.6 121.0,650.6 122.7,650.6 124.5,650.4 126.4,650.6 128.2,650.3 129.5,650.6 130.8,650.4 132.6,649.3 134.2,650.5 135.5,650.5 137.2,647.6 139.1,650.5 140.7,650.3 142.4,650.5 144.2,650.4 146.0,650.5 147.7,650.6 149.2,650.3 151.0,650.4 152.9,650.6 154.6,650.4 155.9,650.6 157.2,650.6 158.8,648.1 160.3,647.7 161.9,650.2 163.8,650.6 165.2,650.4 166.6,650.6 168.5,650.2 170.3,650.5 171.8,650.4 173.2,650.5 174.8,649.5 176.6,650.6 178.5,650.5 179.7,650.6 181.6,650.2 183.5,650.3 185.4,650.2 186.9,650.6 187.0,650.6 188.8,630.8 190.6,650.5 191.6,650.5 193.1,650.6 194.6,650.6 195.9,650.4 197.2,650.4 198.8,650.5 200.7,650.4 202.3,648.5 203.9,650.3 205.8,650.5 207.6,650.6 208.4,650.6 210.2,637.4 212.0,650.4 213.0,650.5 214.6,650.6 216.1,650.6 217.6,650.6 219.5,648.3 220.8,650.5 222.5,650.3 223.9,650.6 225.7,650.6 227.4,650.6 229.2,633.3 231.0,650.4 232.2,650.6 234.1,650.6 235.9,650.5 237.9,650.2 239.5,650.6 241.0,650.5 243.0,650.5 245.0,650.6 246.9,650.4 248.2,650.5 249.8,650.4 251.2,650.6 252.8,650.6 254.3,650.6 255.5,650.5 257.1,650.2 258.4,650.6 259.8,650.4 261.4,650.3 262.4,650.5 264.2,643.0 266.0,650.6 266.9,650.6 268.0,650.6 269.8,641.8 271.6,649.7 272.2,649.3 273.5,650.5 275.3,648.7 276.6,650.6 278.0,650.4 279.5,650.4 281.4,648.1 282.8,647.9 284.5,650.5 286.3,650.6 288.1,650.2 289.7,650.5 291.2,650.4 292.7,650.5 293.9,650.2 295.5,650.6 297.1,650.4 299.0,650.3 300.4,650.6 301.7,650.2 303.6,650.6 305.5,650.4 306.1,650.5 307.9,644.0 309.7,649.6 310.6,649.1 311.8,650.6 313.2,650.5 314.6,650.2 316.5,650.5 317.8,650.4 319.2,650.5 320.2,650.4 322.0,646.5 323.8,650.5 325.4,650.6 327.2,650.4 328.8,650.5 330.1,650.4 331.7,650.2 332.9,650.6 334.2,650.2 336.0,647.9 337.2,649.8 339.0,646.0 340.8,650.2 342.2,650.5 343.7,650.4 345.6,650.6 347.3,650.3 348.9,650.5 350.4,650.6 351.3,650.5 353.1,641.0 354.9,650.5 355.0,650.5 356.2,650.4 357.5,650.3 359.3,650.3 360.8,650.6 362.8,650.4 364.4,650.5 365.8,650.6 367.2,650.2 368.6,650.6 369.9,650.5 371.7,650.5 373.6,650.6 375.4,650.5 376.7,650.6 378.3,650.5 379.8,650.3 381.5,650.6 382.8,650.6 384.3,650.6 385.6,650.6 387.5,650.4 388.7,650.3 390.5,650.4 392.1,650.5 393.8,650.6 395.2,650.5 396.9,650.4 398.1,650.4 399.2,650.4 401.0,627.7 402.8,650.6 403.3,650.6 404.5,650.6 405.8,650.5 407.5,650.6 408.9,650.3 410.5,650.5 411.9,650.3 413.2,648.0 414.5,650.5 416.0,650.4 417.4,650.4 418.6,650.4 420.4,650.4 422.4,650.5 424.1,650.5 425.5,650.6 426.8,650.4 428.5,650.6 430.0,650.5 432.0,650.5 433.4,650.5 434.9,650.4 436.6,650.4 438.5,650.6 438.8,650.6 440.6,641.5 442.4,650.3 443.3,650.4 444.9,650.6 446.1,650.6 447.9,650.5 449.3,650.3 451.1,645.0 452.9,650.5 453.1,650.6 454.7,650.6 456.1,650.6 458.0,650.5 459.3,650.6 460.9,650.6 461.9,650.6 463.7,639.8 465.5,650.5 467.0,650.4 468.8,650.6 470.0,650.6 471.5,650.5 473.2,650.6 474.9,650.3 476.4,650.5 478.3,650.3 479.7,650.5 481.3,650.2 482.9,650.6 484.5,650.6 486.3,650.3 487.7,650.6 489.4,650.2 491.0,650.5 493.0,650.6 494.3,650.6 496.2,650.5 498.0,650.4 499.9,650.6 501.2,650.4 503.0,650.3 504.5,650.6 505.7,650.6 507.5,650.6 508.8,650.6 510.0,650.3 511.7,650.5 513.0,650.3 514.6,650.5 516.3,650.4 517.9,650.5 519.2,650.4 520.4,650.6 521.7,650.4 523.4,650.6 525.2,650.4 527.0,650.6 528.4,650.5 529.6,650.6 531.1,650.6 532.3,650.6 533.7,650.4 535.5,648.4 537.5,650.4 539.2,650.4 541.0,650.4 542.8,650.3 544.4,648.6 546.3,650.6 548.3,650.3 549.6,650.2 551.1,650.6 552.7,650.5 554.3,650.5 556.1,647.7 557.4,650.3 558.9,650.5 560.3,650.3 562.1,648.1 564.1,650.6 565.4,650.2 566.7,650.4 568.2,650.5 570.0,650.5 571.7,650.4 573.5,650.4 575.0,650.6 576.8,650.5 578.6,650.4 579.8,650.3 581.6,640.6 583.4,650.6 584.7,650.6 586.1,650.5 587.5,650.6 589.4,650.3 590.8,647.8 592.7,650.2 594.6,650.6 596.5,650.6 598.5,650.6 600.0,650.6 601.9,650.4 603.7,650.6 605.3,650.3 606.8,650.2 608.4,650.5 610.2,650.6 611.7,650.2 613.7,650.3 614.9,650.5 616.4,650.5 617.6,650.5 619.2,650.3 621.0,650.4 622.5,650.6 624.4,650.2 625.3,650.3 627.1,645.0 628.9,650.4 630.3,650.5 631.8,650.4 633.5,650.3 635.2,650.2 637.1,650.4 638.4,650.5 639.7,650.5 641.7,650.4 643.3,650.6 644.6,650.5 646.3,650.6 647.7,650.3 649.4,650.5 651.1,650.3 653.0,650.6 654.2,650.5 655.6,650.5 657.0,650.5 658.6,650.4 660.3,650.2 662.2,650.5 663.8,650.6 665.1,650.5 666.4,650.5 668.1,650.3 669.7,650.6 671.3,650.4 673.2,650.5 675.1,650.3 676.6,650.4 678.4,644.0 680.2,650.6 680.3,650.6 681.6,650.6 683.1,650.5 685.0,650.6 686.4,650.6 687.9,648.5 689.2,650.6 690.8,649.6 692.3,650.6 694.2,650.3 696.0,650.6 697.8,633.7 699.6,650.2 700.7,650.3 702.0,650.5 703.3,650.3 705.0,650.6 706.3,650.3 707.6,650.5 709.4,650.6 710.9,650.5 712.5,650.5 714.3,643.5 716.1,650.4 718.1,650.5 719.4,650.6 721.2,650.4 722.6,650.5 724.0,650.6 725.3,650.4 727.1,650.4 728.5,650.5 730.4,650.2 731.8,650.4 733.8,650.2 735.7,650.5 737.0,650.2 738.8,650.4 740.3,647.9 742.0,650.6 743.5,650.5 744.9,650.5 746.5,650.5 748.4,650.4 749.7,650.4 751.4,650.5 751.9,650.5 753.7,608.2 755.5,650.1 756.3,650.6 757.8,650.4 759.4,650.3 761.3,650.4 763.3,650.6 764.9,650.5 766.3,650.6 768.1,650.6 769.7,650.5 771.4,650.5 773.1,648.2 774.7,650.5 776.5,650.6 777.8,650.3 779.0,650.5 780.5,650.6 781.9,650.2 783.8,650.5 785.2,649.2 786.7,650.6 788.3,650.5 789.6,650.5 791.4,650.3 792.9,650.6 794.6,650.4 796.4,648.4 798.2,650.4 799.7,650.6 801.4,650.3 803.1,650.2 804.5,650.6 805.7,650.5 807.1,650.5 808.5,650.3 810.4,650.6 812.0,650.5 813.6,650.3 814.8,650.3 816.5,650.5 817.7,650.5 819.2,650.4 820.5,650.6 822.3,642.0 824.1,650.6 825.9,650.6 827.7,650.3 829.6,650.5 831.0,650.6 832.4,650.2 834.4,650.4 835.8,650.6 837.5,650.3 839.1,650.6 841.0,650.4 842.9,650.5 844.8,650.4 846.3,650.5 848.1,650.3 849.7,650.6 851.0,650.3 852.9,650.6 854.5,650.2 855.9,650.6 857.8,650.6 859.5,650.5 861.0,650.5 862.7,650.6 864.2,650.3 866.2,650.5 867.9,650.3 868.6,650.4 870.4,643.0 872.2,650.4 872.7,650.2 874.6,650.4 876.2,650.5 878.0,647.8 879.9,650.3 881.3,650.3 882.8,650.5 884.2,650.6 885.5,650.5 887.1,650.6 888.7,650.6 890.0,650.4 891.3,650.6 892.7,650.3 893.9,650.6 895.8,650.6 897.2,650.6 898.8,650.5 900.5,650.6 902.4,650.4 903.7,650.6 905.2,650.4 906.8,650.4 908.2,650.6 910.0,650.5 912.0,650.6 913.6,650.5 915.2,650.4 917.1,650.6 918.7,650.4 920.5,650.5 922.3,650.6 923.8,650.6 925.6,650.6 926.8,650.6 927.9,650.5 929.7,646.0 931.5,648.9 931.8,648.6 933.4,650.4 935.2,650.4 936.4,650.3 938.4,650.2 940.1,650.5 941.7,650.5 943.6,650.6 945.5,650.6 947.2,650.6 949.2,650.6 950.8,650.5 952.8,650.6 954.2,650.6 954.9,650.6 956.7,646.5 958.5,650.5 960.1,650.2 961.5,650.4 962.7,650.6 964.4,650.3 965.8,650.5 967.4,650.6 968.8,650.6 970.4,650.6 972.3,650.2 974.2,650.6 975.7,650.6 977.7,650.4 979.1,650.4 980.7,650.3 982.3,650.5 983.6,650.4 984.9,650.6 986.8,650.3 988.2,650.6 989.6,650.6 991.4,650.6 993.2,650.6 994.8,650.2 996.7,650.6 998.4,650.5 999.9,650.4 1001.3,650.6 1002.5,650.5 1003.8,650.6 1005.5,650.3 1007.5,650.3 1009.0,650.6 1010.7,650.5 1012.6,650.3 1013.9,650.6 1015.3,650.2 1016.5,650.5 1017.9,650.6 1019.1,650.6 1020.7,650.5 1022.2,650.4 1023.6,650.2 1025.1,650.6 1026.5,650.6 1028.4,650.5 1030.3,650.2 1032.0,650.4 1033.7,650.4 1035.5,650.3 1037.5,650.5 1039.3,650.6 1041.0,650.5 1042.8,650.5 1044.7,650.4 1046.6,650.4 1048.3,650.5 1050.2,650.5 1051.7,650.6 1053.5,650.4 1055.1,648.8 1056.9,650.6 1058.4,650.6 1059.8,650.4 1061.7,650.6 1063.6,650.3 1064.8,650.4 1066.1,650.3 1067.4,650.4 1068.8,650.6 1070.5,650.3 1072.4,650.6 1074.2,650.5 1075.8,650.4 1077.3,650.6 1078.6,650.6 1080.5,650.6 1082.1,650.3 1083.6,650.6 1084.9,650.6 1086.8,650.2 1088.4,650.6 1090.3,650.6 1092.2,650.6 1093.6,649.4 1095.1,650.5 1097.0,650.6 1098.7,650.6 1100.6,650.2 1102.6,650.6 1104.4,650.2 1106.1,650.2 1107.7,650.5 1109.6,650.6 1111.1,650.3 1112.8,650.2 1114.4,650.6 1115.6,650.6 1117.4,650.6 1118.6,650.6 1120.5,650.4 1121.7,650.5 1123.4,650.4 1125.0,650.6 1126.2,650.3 1128.0,650.5 1129.4,650.5 1130.8,650.4 1132.2,650.4 1134.1,650.5 1136.0,650.5 1137.6,650.3 1139.3,650.6 1140.9,650.5 1142.8,650.3 1144.6,650.3 1146.4,650.6 1147.8,650.5 1149.8,650.5 1151.3,650.3 1153.1,650.5 1154.9,650.6 1156.4,650.5 1157.9,650.6 1159.7,650.3 1161.6,650.3 1163.0,650.6 1164.4,650.6 1166.4,650.6 1167.7,650.6 1168.2,650.5 1170.0,647.0 1171.8,650.5 1172.5,650.5 1174.4,650.4 1176.1,649.3 1177.9,650.3 1179.2,650.5 1180.5,650.5 1182.4,650.5 1184.3,650.4 1185.9,650.6 1187.7,650.6 1189.5,650.5 1191.0,650.3 1192.6,650.6 1194.1,650.6 1196.1,650.3 1197.8,650.4 1199.8,648.5 1201.1,650.4 1202.5,650.4 1204.2,650.5 1205.8,650.5 1207.1,650.3 1208.6,650.5 1210.2,650.6 1211.7,650.2 1213.0,650.5 1214.5,650.2 1216.1,650.4 1218.0,650.3 1220.0,650.4 1221.6,650.5 1221.6,651.2" fill="#7eb26d" fill-opacity="0.09" stroke="none"/>
<polyline points="49.7,650.5 51.0,648.6 52.9,650.6 54.6,650.6 56.4,650.5 57.7,650.6 59.5,647.9 61.3,650.5 62.4,650.6 64.2,650.5 65.6,650.6 67.5,650.6 69.4,650.6 71.0,650.6 72.9,650.6 74.2,650.5 75.5,650.6 77.2,650.6 78.8,650.3 80.3,650.4 82.0,650.6 83.9,650.6 85.6,650.6 87.6,650.2 89.4,650.2 91.1,650.6 92.8,650.5 94.1,650.6 95.7,650.5 97.7,648.0 99.2,650.5 100.7,650.6 102.4,650.6 103.7,650.4 105.3,650.4 107.0,650.5 109.0,650.5 110.9,650.5 112.2,650.3 113.5,650.2 115.4,650.2 116.0,650.4 117.8,645.4 119.6,650.6 119.6,650.6 121.0,650.6 122.7,650.6 124.5,650.4 126.4,650.6 128.2,650.3 129.5,650.6 130.8,650.4 132.6,649.3 134.2,650.5 135.5,650.5 137.2,647.6 139.1,650.5 140.7,650.3 142.4,650.5 144.2,650.4 146.0,650.5 147.7,650.6 149.2,650.3 151.0,650.4 152.9,650.6 154.6,650.4 155.9,650.6 157.2,650.6 158.8,648.1 160.3,647.7 161.9,650.2 163.8,650.6 165.2,650.4 166.6,650.6 168.5,650.2 170.3,650.5 171.8,650.4 173.2,650.5 174.8,649.5 176.6,650.6 178.5,650.5 179.7,650.6 181.6,650.2 183.5,650.3 185.4,650.2 186.9,650.6 187.0,650.6 188.8,630.8 190.6,650.5 191.6,650.5 193.1,650.6 194.6,650.6 195.9,650.4 197.2,650.4 198.8,650.5 200.7,650.4 202.3,648.5 203.9,650.3 205.8,650.5 207.6,650.6 208.4,650.6 210.2,637.4 212.0,650.4 213.0,650.5 214.6,650.6 216.1,650.6 217.6,650.6 219.5,648.3 220.8,650.5 222.5,650.3 223.9,650.6 225.7,650.6 227.4,650.6 229.2,633.3 231.0,650.4 232.2,650.6 234.1,650.6 235.9,650.5 237.9,650.2 239.5,650.6 241.0,650.5 243.0,650.5 245.0,650.6 246.9,650.4 248.2,650.5 249.8,650.4 251.2,650.6 252.8,650.6 254.3,650.6 255.5,650.5 257.1,650.2 258.4,650.6 259.8,650.4 261.4,650.3 262.4,650.5 264.2,643.0 266.0,650.6 266.9,650.6 268.0,650.6 269.8,641.8 271.6,649.7 272.2,649.3 273.5,650.5 275.3,648.7 276.6,650.6 278.0,650.4 279.5,650.4 281.4,648.1 282.8,647.9 284.5,650.5 286.3,650.6 288.1,650.2 289.7,650.5 291.2,650.4 292.7,650.5 293.9,650.2 295.5,650.6 297.1,650.4 299.0,650.3 300.4,650.6 301.7,650.2 303.6,650.6 305.5,650.4 306.1,650.5 307.9,644.0 309.7,649.6 310.6,649.1 311.8,650.6 313.2,650.5 314.6,650.2 316.5,650.5 317.8,650.4 319.2,650.5 320.2,650.4 322.0,646.5 323.8,650.5 325.4,650.6 327.2,650.4 328.8,650.5 330.1,650.4 331.7,650.2 332.9,650.6 334.2,650.2 336.0,647.9 337.2,649.8 339.0,646.0 340.8,650.2 342.2,650.5 343.7,650.4 345.6,650.6 347.3,650.3 348.9,650.5 350.4,650.6 351.3,650.5 353.1,641.0 354.9,650.5 355.0,650.5 356.2,650.4 357.5,650.3 359.3,650.3 360.8,650.6 362.8,650.4 364.4,650.5 365.8,650.6 367.2,650.2 368.6,650.6 369.9,650.5 371.7,650.5 373.6,650.6 375.4,650.5 376.7,650.6 378.3,650.5 379.8,650.3 381.5,650.6 382.8,650.6 384.3,650.6 385.6,650.6 387.5,650.4 388.7,650.3 390.5,650.4 392.1,650.5 393.8,650.6 395.2,650.5 396.9,650.4 398.1,650.4 399.2,650.4 401.0,627.7 402.8,650.6 403.3,650.6 404.5,650.6 405.8,650.5 407.5,650.6 408.9,650.3 410.5,650.5 411.9,650.3 413.2,648.0 414.5,650.5 416.0,650.4 417.4,650.4 418.6,650.4 420.4,650.4 422.4,650.5 424.1,650.5 425.5,650.6 426.8,650.4 428.5,650.6 430.0,650.5 432.0,650.5 433.4,650.5 434.9,650.4 436.6,650.4 438.5,650.6 438.8,650.6 440.6,641.5 442.4,650.3 443.3,650.4 444.9,650.6 446.1,650.6 447.9,650.5 449.3,650.3 451.1,645.0 452.9,650.5 453.1,650.6 454.7,650.6 456.1,650.6 458.0,650.5 459.3,650.6 460.9,650.6 461.9,650.6 463.7,639.8 465.5,650.5 467.0,650.4 468.8,650.6 470.0,650.6 471.5,650.5 473.2,650.6 474.9,650.3 476.4,650.5 478.3,650.3 479.7,650.5 481.3,650.2 482.9,650.6 484.5,650.6 486.3,650.3 487.7,650.6 489.4,650.2 491.0,650.5 493.0,650.6 494.3,650.6 496.2,650.5 498.0,650.4 499.9,650.6 501.2,650.4 503.0,650.3 504.5,650.6 505.7,650.6 507.5,650.6 508.8,650.6 510.0,650.3 511.7,650.5 513.0,650.3 514.6,650.5 516.3,650.4 517.9,650.5 519.2,650.4 520.4,650.6 521.7,650.4 523.4,650.6 525.2,650.4 527.0,650.6 528.4,650.5 529.6,650.6 531.1,650.6 532.3,650.6 533.7,650.4 535.5,648.4 537.5,650.4 539.2,650.4 541.0,650.4 542.8,650.3 544.4,648.6 546.3,650.6 548.3,650.3 549.6,650.2 551.1,650.6 552.7,650.5 554.3,650.5 556.1,647.7 557.4,650.3 558.9,650.5 560.3,650.3 562.1,648.1 564.1,650.6 565.4,650.2 566.7,650.4 568.2,650.5 570.0,650.5 571.7,650.4 573.5,650.4 575.0,650.6 576.8,650.5 578.6,650.4 579.8,650.3 581.6,640.6 583.4,650.6 584.7,650.6 586.1,650.5 587.5,650.6 589.4,650.3 590.8,647.8 592.7,650.2 594.6,650.6 596.5,650.6 598.5,650.6 600.0,650.6 601.9,650.4 603.7,650.6 605.3,650.3 606.8,650.2 608.4,650.5 610.2,650.6 611.7,650.2 613.7,650.3 614.9,650.5 616.4,650.5 617.6,650.5 619.2,650.3 621.0,650.4 622.5,650.6 624.4,650.2 625.3,650.3 627.1,645.0 628.9,650.4 630.3,650.5 631.8,650.4 633.5,650.3 635.2,650.2 637.1,650.4 638.4,650.5 639.7,650.5 641.7,650.4 643.3,650.6 644.6,650.5 646.3,650.6 647.7,650.3 649.4,650.5 651.1,650.3 653.0,650.6 654.2,650.5 655.6,650.5 657.0,650.5 658.6,650.4 660.3,650.2 662.2,650.5 663.8,650.6 665.1,650.5 666.4,650.5 668.1,650.3 669.7,650.6 671.3,650.4 673.2,650.5 675.1,650.3 676.6,650.4 678.4,644.0 680.2,650.6 680.3,650.6 681.6,650.6 683.1,650.5 685.0,650.6 686.4,650.6 687.9,648.5 689.2,650.6 690.8,649.6 692.3,650.6 694.2,650.3 696.0,650.6 697.8,633.7 699.6,650.2 700.7,650.3 702.0,650.5 703.3,650.3 705.0,650.6 706.3,650.3 707.6,650.5 709.4,650.6 710.9,650.5 712.5,650.5 714.3,643.5 716.1,650.4 718.1,650.5 719.4,650.6 721.2,650.4 722.6,650.5 724.0,650.6 725.3,650.4 727.1,650.4 728.5,650.5 730.4,650.2 731.8,650.4 733.8,650.2 735.7,650.5 737.0,650.2 738.8,650.4 740.3,647.9 742.0,650.6 743.5,650.5 744.9,650.5 746.5,650.5 748.4,650.4 749.7,650.4 751.4,650.5 751.9,650.5 753.7,608.2 755.5,650.1 756.3,650.6 757.8,650.4 759.4,650.3 761.3,650.4 763.3,650.6 764.9,650.5 766.3,650.6 768.1,650.6 769.7,650.5 771.4,650.5 773.1,648.2 774.7,650.5 776.5,650.6 777.8,650.3 779.0,650.5 780.5,650.6 781.9,650.2 783.8,650.5 785.2,649.2 786.7,650.6 788.3,650.5 789.6,650.5 791.4,650.3 792.9,650.6 794.6,650.4 796.4,648.4 798.2,650.4 799.7,650.6 801.4,650.3 803.1,650.2 804.5,650.6 805.7,650.5 807.1,650.5 808.5,650.3 810.4,650.6 812.0,650.5 813.6,650.3 814.8,650.3 816.5,650.5 817.7,650.5 819.2,650.4 820.5,650.6 822.3,642.0 824.1,650.6 825.9,650.6 827.7,650.3 829.6,650.5 831.0,650.6 832.4,650.2 834.4,650.4 835.8,650.6 837.5,650.3 839.1,650.6 841.0,650.4 842.9,650.5 844.8,650.4 846.3,650.5 848.1,650.3 849.7,650.6 851.0,650.3 852.9,650.6 854.5,650.2 855.9,650.6 857.8,650.6 859.5,650.5 861.0,650.5 862.7,650.6 864.2,650.3 866.2,650.5 867.9,650.3 868.6,650.4 870.4,643.0 872.2,650.4 872.7,650.2 874.6,650.4 876.2,650.5 878.0,647.8 879.9,650.3 881.3,650.3 882.8,650.5 884.2,650.6 885.5,650.5 887.1,650.6 888.7,650.6 890.0,650.4 891.3,650.6 892.7,650.3 893.9,650.6 895.8,650.6 897.2,650.6 898.8,650.5 900.5,650.6 902.4,650.4 903.7,650.6 905.2,650.4 906.8,650.4 908.2,650.6 910.0,650.5 912.0,650.6 913.6,650.5 915.2,650.4 917.1,650.6 918.7,650.4 920.5,650.5 922.3,650.6 923.8,650.6 925.6,650.6 926.8,650.6 927.9,650.5 929.7,646.0 931.5,648.9 931.8,648.6 933.4,650.4 935.2,650.4 936.4,650.3 938.4,650.2 940.1,650.5 941.7,650.5 943.6,650.6 945.5,650.6 947.2,650.6 949.2,650.6 950.8,650.5 952.8,650.6 954.2,650.6 954.9,650.6 956.7,646.5 958.5,650.5 960.1,650.2 961.5,650.4 962.7,650.6 964.4,650.3 965.8,650.5 967.4,650.6 968.8,650.6 970.4,650.6 972.3,650.2 974.2,650.6 975.7,650.6 977.7,650.4 979.1,650.4 980.7,650.3 982.3,650.5 983.6,650.4 984.9,650.6 986.8,650.3 988.2,650.6 989.6,650.6 991.4,650.6 993.2,650.6 994.8,650.2 996.7,650.6 998.4,650.5 999.9,650.4 1001.3,650.6 1002.5,650.5 1003.8,650.6 1005.5,650.3 1007.5,650.3 1009.0,650.6 1010.7,650.5 1012.6,650.3 1013.9,650.6 1015.3,650.2 1016.5,650.5 1017.9,650.6 1019.1,650.6 1020.7,650.5 1022.2,650.4 1023.6,650.2 1025.1,650.6 1026.5,650.6 1028.4,650.5 1030.3,650.2 1032.0,650.4 1033.7,650.4 1035.5,650.3 1037.5,650.5 1039.3,650.6 1041.0,650.5 1042.8,650.5 1044.7,650.4 1046.6,650.4 1048.3,650.5 1050.2,650.5 1051.7,650.6 1053.5,650.4 1055.1,648.8 1056.9,650.6 1058.4,650.6 1059.8,650.4 1061.7,650.6 1063.6,650.3 1064.8,650.4 1066.1,650.3 1067.4,650.4 1068.8,650.6 1070.5,650.3 1072.4,650.6 1074.2,650.5 1075.8,650.4 1077.3,650.6 1078.6,650.6 1080.5,650.6 1082.1,650.3 1083.6,650.6 1084.9,650.6 1086.8,650.2 1088.4,650.6 1090.3,650.6 1092.2,650.6 1093.6,649.4 1095.1,650.5 1097.0,650.6 1098.7,650.6 1100.6,650.2 1102.6,650.6 1104.4,650.2 1106.1,650.2 1107.7,650.5 1109.6,650.6 1111.1,650.3 1112.8,650.2 1114.4,650.6 1115.6,650.6 1117.4,650.6 1118.6,650.6 1120.5,650.4 1121.7,650.5 1123.4,650.4 1125.0,650.6 1126.2,650.3 1128.0,650.5 1129.4,650.5 1130.8,650.4 1132.2,650.4 1134.1,650.5 1136.0,650.5 1137.6,650.3 1139.3,650.6 1140.9,650.5 1142.8,650.3 1144.6,650.3 1146.4,650.6 1147.8,650.5 1149.8,650.5 1151.3,650.3 1153.1,650.5 1154.9,650.6 1156.4,650.5 1157.9,650.6 1159.7,650.3 1161.6,650.3 1163.0,650.6 1164.4,650.6 1166.4,650.6 1167.7,650.6 1168.2,650.5 1170.0,647.0 1171.8,650.5 1172.5,650.5 1174.4,650.4 1176.1,649.3 1177.9,650.3 1179.2,650.5 1180.5,650.5 1182.4,650.5 1184.3,650.4 1185.9,650.6 1187.7,650.6 1189.5,650.5 1191.0,650.3 1192.6,650.6 1194.1,650.6 1196.1,650.3 1197.8,650.4 1199.8,648.5 1201.1,650.4 1202.5,650.4 1204.2,650.5 1205.8,650.5 1207.1,650.3 1208.6,650.5 1210.2,650.6 1211.7,650.2 1213.0,650.5 1214.5,650.2 1216.1,650.4 1218.0,650.3 1220.0,650.4 1221.6,650.5" fill="none" stroke="#7eb26d" stroke-width="1.8" stroke-linejoin="round"/>
<polygon points="49.7,651.2 49.7,650.9 51.5,650.9 53.1,650.7 54.7,649.6 55.9,650.9 57.0,650.7 58.3,650.7 59.5,650.9 61.2,649.1 62.9,650.8 64.1,650.9 65.3,650.9 67.0,650.9 68.6,650.4 70.1,650.7 71.3,650.9 72.6,650.4 74.2,650.7 75.4,650.9 77.1,650.8 77.9,650.7 79.4,645.9 80.9,649.4 81.4,648.6 82.9,650.9 84.8,650.9 85.2,650.5 86.7,641.0 88.2,650.4 88.3,650.4 89.9,650.4 91.8,650.7 93.1,650.7 94.5,650.6 96.2,650.5 97.3,650.9 98.8,650.9 100.0,650.5 100.5,650.6 102.0,646.4 103.5,650.8 104.7,650.9 106.5,650.6 107.1,650.6 108.6,646.5 110.1,649.8 110.6,649.4 112.0,650.9 113.6,650.6 115.2,650.9 116.7,648.8 118.3,650.7 120.0,650.9 121.3,650.9 123.1,650.9 124.5,650.9 125.9,650.5 127.0,650.8 128.2,650.9 129.2,650.6 130.7,643.5 132.2,650.7 132.5,650.7 134.0,650.8 135.3,650.8 136.2,650.8 137.7,644.7 139.2,650.8 139.3,650.9 140.9,650.5 142.1,650.9 143.9,650.8 145.3,649.3 146.9,650.6 148.1,650.7 149.6,650.7 151.3,650.5 152.9,650.5 154.4,650.9 155.8,650.4 157.4,650.7 157.6,650.7 159.1,642.3 160.6,650.8 161.5,650.6 162.6,650.9 163.2,650.9 164.7,626.0 166.2,650.5 166.4,650.4 168.2,650.8 169.9,650.9 171.1,650.9 173.0,650.4 174.3,650.6 176.1,650.5 177.1,650.8 178.6,647.0 180.1,650.3 180.8,650.0 181.9,650.5 183.8,650.9 185.0,650.8 186.5,650.9 187.9,650.8 189.3,650.6 190.4,650.4 191.8,650.8 192.9,650.7 194.4,650.5 195.8,648.9 197.6,650.4 198.8,650.7 200.2,650.7 201.8,650.8 203.3,650.5 204.8,641.0 206.3,650.5 207.7,650.5 209.3,650.9 211.1,649.5 212.9,650.9 214.2,650.9 215.9,650.7 217.2,650.9 217.2,650.9 218.7,643.5 220.2,649.9 220.4,649.8 222.1,650.8 223.3,650.8 225.0,650.9 225.2,650.9 226.7,645.0 228.2,650.7 229.3,650.9 231.0,650.5 232.8,649.0 234.3,650.9 235.8,650.9 237.4,650.6 237.9,650.6 239.4,647.0 240.9,650.8 242.4,650.6 243.8,650.9 245.4,650.6 247.1,650.5 248.3,650.8 250.0,648.7 251.5,650.9 252.9,650.6 254.4,650.8 256.1,650.8 257.6,646.0 259.1,650.6 259.1,650.6 260.4,650.9 262.0,650.4 263.5,650.9 265.2,650.5 267.0,650.9 268.2,648.6 269.6,650.8 271.0,650.8 272.2,650.9 273.7,650.9 274.9,650.9 276.7,650.7 278.0,650.8 279.7,650.9 280.9,650.9 282.6,650.5 284.1,650.6 285.3,649.6 286.9,649.8 288.1,650.7 289.3,650.7 291.0,650.7 292.2,650.5 293.9,650.6 295.7,650.9 296.8,649.2 298.6,650.7 300.4,650.7 301.6,650.9 303.0,650.9 304.3,650.6 306.1,650.8 307.4,650.5 308.8,650.8 310.1,650.6 311.7,650.9 313.5,650.8 314.9,650.9 316.7,648.7 316.9,648.9 318.4,647.0 319.9,650.8 320.2,650.9 321.6,650.5 323.2,649.6 324.6,650.8 326.1,650.9 327.8,650.9 329.2,649.6 329.8,649.9 331.3,645.4 332.8,650.8 334.0,650.6 335.2,650.7 337.0,650.7 338.8,650.6 340.4,650.9 342.3,649.8 343.9,650.6 345.1,648.5 346.7,650.8 348.2,650.9 349.8,650.8 351.5,650.9 352.8,649.8 354.3,644.0 355.8,650.9 356.6,650.9 358.3,648.4 359.9,650.5 361.6,650.8 362.8,650.9 363.8,650.8 365.3,645.0 366.8,649.8 368.0,648.3 369.6,650.5 371.2,650.9 372.8,650.9 374.6,650.4 375.9,650.9 377.1,650.8 378.7,650.9 380.3,650.6 382.0,648.2 383.5,639.1 385.0,650.6 385.5,650.9 387.1,650.9 388.5,650.4 389.9,650.5 391.3,650.9 392.7,650.9 393.9,650.8 395.7,649.2 397.2,650.9 398.9,650.9 400.5,650.9 402.2,650.9 403.3,649.2 404.6,650.9 405.8,650.5 407.1,650.9 408.4,649.5 409.5,649.7 411.1,650.5 412.3,650.8 413.9,650.7 415.5,650.9 417.0,650.5 418.7,650.9 420.4,650.9 422.3,650.8 423.8,650.8 425.3,650.9 426.6,650.7 428.0,650.6 429.3,650.7 431.1,650.5 432.8,650.6 434.1,650.8 435.9,650.9 437.1,650.8 438.9,650.7 440.6,650.5 442.1,650.9 443.4,650.9 444.6,650.8 446.3,650.5 448.0,650.6 449.5,650.5 450.7,650.8 451.9,650.6 453.6,650.5 455.4,650.9 456.8,650.8 458.5,649.1 459.8,650.8 461.1,650.8 462.6,650.7 464.0,650.9 465.7,650.6 467.3,650.5 469.1,650.9 471.0,650.8 472.8,650.7 474.5,650.9 475.8,650.9 477.2,650.6 478.4,650.8 480.0,650.9 481.2,650.8 483.0,650.9 484.2,650.9 485.7,648.8 487.1,650.9 488.4,650.9 490.1,650.9 491.5,650.5 493.4,650.9 493.8,650.9 495.3,639.8 496.8,650.7 497.4,650.6 498.6,650.7 499.9,650.8 501.1,650.7 502.5,650.8 503.1,650.4 504.6,599.2 506.1,650.8 507.4,650.7 508.6,650.7 510.0,650.8 510.4,650.8 511.9,638.6 513.4,650.4 514.8,649.3 516.5,650.9 518.0,650.7 519.4,650.7 520.6,650.8 522.1,642.0 523.6,650.6 523.8,650.6 525.7,650.9 527.1,647.9 528.5,650.4 530.3,650.8 531.5,650.9 532.9,650.5 534.4,650.6 535.8,650.8 537.1,650.9 538.1,650.9 539.6,643.0 541.1,650.5 542.4,650.7 543.5,650.7 545.1,650.7 546.5,650.9 548.2,650.7 549.7,650.9 551.0,650.9 552.5,634.2 554.0,650.7 554.7,650.6 556.5,650.9 558.4,650.8 559.8,650.6 561.3,648.5 562.9,650.9 564.5,650.7 566.0,650.6 567.7,650.7 569.4,650.9 570.7,650.8 572.5,650.6 574.1,650.9 575.9,650.9 577.5,650.5 579.4,650.9 581.2,650.7 582.8,648.7 584.1,648.4 585.3,650.6 586.6,650.4 588.5,650.8 589.9,650.5 591.2,650.9 593.0,650.8 594.2,650.8 596.1,650.6 597.6,650.8 598.7,650.8 600.2,650.9 601.8,650.4 603.5,650.5 604.9,650.6 606.4,650.8 607.7,650.7 609.3,650.9 610.8,650.6 612.5,650.7 614.2,650.8 615.4,650.7 616.9,643.0 618.4,650.9 618.9,650.9 620.1,650.9 621.8,650.6 623.6,650.6 624.7,650.7 626.1,650.8 627.6,650.8 629.5,650.7 631.2,650.9 632.7,649.9 633.9,649.9 635.8,650.9 637.4,650.4 639.2,650.8 640.3,650.6 641.8,650.4 643.3,650.8 644.5,650.6 645.9,650.9 647.5,650.6 648.7,650.9 650.2,648.8 652.1,650.6 653.2,650.8 654.4,650.9 656.0,650.7 657.3,650.9 659.0,648.1 660.9,650.8 662.7,650.6 664.5,650.5 666.3,650.8 667.8,650.9 669.6,649.9 671.0,650.8 672.3,650.8 673.7,650.9 675.2,650.7 676.8,650.7 678.2,650.9 679.5,650.8 680.9,650.9 682.5,650.9 684.2,650.7 685.9,650.9 687.1,650.8 688.3,650.9 689.9,650.8 691.1,650.7 692.8,650.9 694.3,650.7 696.1,650.4 697.6,650.8 698.9,650.9 700.3,650.8 702.0,649.6 703.2,650.9 704.8,650.9 706.2,650.8 707.9,648.5 709.3,650.5 709.7,650.6 711.2,643.0 712.7,650.8 713.4,650.9 714.8,650.9 716.3,650.8 717.7,650.9 719.6,650.9 721.0,650.8 722.3,650.7 724.1,650.5 725.4,650.9 727.1,650.9 728.6,650.4 730.4,650.7 731.6,650.8 733.1,650.8 734.4,650.9 735.8,650.4 737.5,650.5 739.2,650.9 741.0,650.4 742.6,650.8 744.1,650.6 745.3,650.9 746.7,650.9 748.2,650.8 749.7,650.8 751.1,650.9 752.3,650.8 754.1,650.8 755.4,650.8 756.9,648.6 758.4,650.7 760.1,650.8 761.8,650.8 763.5,650.7 765.2,650.9 766.7,650.9 768.3,650.9 769.8,650.6 771.5,649.8 773.3,650.9 774.9,648.8 776.7,650.8 778.2,650.9 779.6,650.6 781.2,650.5 782.6,650.7 783.8,650.9 785.5,650.9 786.8,650.8 788.2,650.8 789.4,650.5 790.8,650.7 792.1,650.7 793.2,650.4 795.0,650.6 796.2,650.7 797.5,650.8 797.9,650.7 799.4,642.5 800.9,650.9 802.4,650.6 803.8,650.6 805.5,649.5 807.2,650.7 809.0,649.7 810.5,650.5 811.7,650.9 813.5,650.9 815.3,650.9 816.9,650.5 818.3,650.6 820.1,650.4 822.0,650.8 823.8,650.9 824.9,650.4 826.6,648.8 827.9,650.7 829.2,650.7 831.0,650.9 832.1,650.9 833.5,650.5 834.8,650.9 836.4,650.5 838.0,650.7 839.2,650.7 840.9,650.9 842.4,649.7 843.6,650.8 844.9,649.6 846.1,650.6 847.6,650.9 848.8,650.9 850.7,650.8 852.0,649.1 853.8,650.4 853.9,650.4 855.4,644.5 856.9,650.7 857.9,650.5 859.1,650.5 860.7,650.8 862.4,650.9 863.7,650.5 865.4,650.5 867.3,650.8 868.9,650.7 870.2,650.8 871.7,650.4 873.4,650.7 875.1,650.9 876.6,650.5 878.3,650.9 880.2,650.9 881.7,650.5 883.1,650.9 884.0,650.9 885.5,638.6 887.0,650.4 887.5,650.4 888.7,650.8 889.8,650.9 891.5,650.9 892.7,650.7 894.1,650.9 895.9,650.7 897.5,650.9 899.1,650.9 899.3,650.8 900.8,645.0 902.3,650.6 903.3,650.4 904.8,650.9 906.2,650.8 907.4,650.7 909.0,650.5 910.4,648.8 912.0,650.6 913.7,650.8 915.1,650.8 916.5,650.6 917.8,648.1 919.4,650.8 920.8,650.7 922.5,650.9 924.3,650.9 925.8,650.8 927.3,650.9 928.8,650.9 930.2,650.7 931.4,650.8 933.2,650.5 935.1,650.9 936.5,650.9 938.2,650.5 939.8,650.5 941.7,650.7 943.2,650.9 944.9,650.5 946.4,650.7 948.2,650.9 949.9,648.6 951.4,650.8 952.9,650.6 954.7,650.9 956.0,650.7 957.5,650.8 958.9,650.8 960.7,650.8 962.3,650.9 962.3,650.9 963.8,645.1 965.3,650.8 966.3,650.9 967.8,641.2 969.3,650.6 970.0,650.5 971.5,650.9 973.0,650.7 974.8,650.8 976.2,650.5 977.4,650.9 978.8,650.7 980.2,650.6 982.0,650.5 983.7,647.9 985.3,650.8 986.5,650.9 988.0,629.9 989.5,650.7 990.0,650.8 991.7,650.6 993.1,650.8 994.3,650.9 996.0,650.8 997.1,650.9 998.6,650.7 999.9,650.9 1001.0,650.7 1002.2,650.9 1003.7,650.8 1004.9,650.5 1006.1,650.8 1007.9,650.5 1009.4,649.6 1011.0,650.8 1012.2,650.5 1013.7,645.0 1015.2,650.9 1015.7,650.9 1017.0,650.6 1018.7,650.5 1020.1,650.8 1021.4,650.8 1022.8,650.9 1024.3,650.8 1025.9,650.7 1027.4,642.0 1028.9,650.6 1029.1,650.6 1029.8,650.6 1031.3,639.9 1032.8,650.6 1033.4,650.6 1035.2,650.7 1036.4,650.7 1037.8,650.7 1039.1,650.7 1040.2,650.6 1041.6,650.7 1042.8,650.7 1044.0,650.8 1045.8,650.4 1046.9,650.8 1048.4,645.0 1049.9,650.6 1050.2,650.6 1051.8,650.6 1053.0,650.8 1054.9,650.9 1056.5,650.7 1058.4,650.8 1059.5,650.9 1061.0,650.7 1062.1,650.5 1063.6,650.9 1064.8,650.9 1066.3,650.9 1067.5,650.8 1069.1,648.1 1070.8,650.4 1072.0,648.5 1073.6,650.9 1075.4,650.8 1076.9,650.9 1078.7,650.9 1079.9,650.5 1081.3,650.7 1082.8,650.9 1084.5,650.6 1086.3,650.5 1087.4,650.9 1089.0,650.8 1090.7,650.7 1091.5,650.7 1093.0,645.5 1094.5,650.9 1095.2,650.9 1096.8,649.7 1098.4,650.9 1100.1,650.6 1101.5,650.9 1103.2,650.9 1104.6,649.3 1106.3,650.8 1107.8,650.5 1109.5,650.9 1111.4,650.9 1113.0,650.4 1114.3,650.7 1115.5,649.6 1116.8,650.9 1118.2,650.5 1119.5,650.5 1121.0,650.6 1122.4,650.5 1124.2,650.9 1125.7,650.7 1127.0,650.8 1128.4,650.7 1129.7,650.6 1131.0,650.9 1132.8,650.9 1134.5,650.9 1136.3,650.8 1138.1,650.5 1139.4,650.6 1141.1,650.5 1142.8,650.9 1144.6,650.9 1145.8,650.6 1147.1,650.7 1148.7,650.9 1149.9,650.4 1151.4,650.6 1152.7,650.7 1154.1,650.8 1155.3,650.9 1156.8,634.1 1158.3,649.7 1159.2,648.7 1160.8,650.9 1162.5,650.8 1163.6,650.9 1164.8,650.5 1166.0,649.9 1167.2,650.6 1168.9,650.9 1170.5,648.0 1172.2,650.7 1173.7,650.7 1175.2,650.8 1176.5,650.8 1178.2,649.0 1179.3,650.5 1180.5,650.9 1182.2,650.8 1183.5,650.6 1184.8,650.6 1186.2,650.9 1187.3,650.7 1188.8,650.8 1190.4,650.7 1191.9,650.9 1193.0,650.6 1194.2,650.7 1196.0,650.9 1197.7,650.8 1199.1,650.8 1200.4,650.7 1201.9,644.6 1203.1,649.4 1204.6,642.5 1206.1,650.8 1207.4,650.6 1209.0,650.5 1210.2,650.8 1211.7,650.9 1213.3,650.6 1214.7,650.9 1216.1,650.7 1217.7,650.8 1219.0,650.8 1219.6,650.8 1221.1,646.0 1222.6,650.8 1222.6,651.2" fill="#eab839" fill-opacity="0.1" stroke="none"/>
<polyline points="49.7,650.9 51.5,650.9 53.1,650.7 54.7,649.6 55.9,650.9 57.0,650.7 58.3,650.7 59.5,650.9 61.2,649.1 62.9,650.8 64.1,650.9 65.3,650.9 67.0,650.9 68.6,650.4 70.1,650.7 71.3,650.9 72.6,650.4 74.2,650.7 75.4,650.9 77.1,650.8 77.9,650.7 79.4,645.9 80.9,649.4 81.4,648.6 82.9,650.9 84.8,650.9 85.2,650.5 86.7,641.0 88.2,650.4 88.3,650.4 89.9,650.4 91.8,650.7 93.1,650.7 94.5,650.6 96.2,650.5 97.3,650.9 98.8,650.9 100.0,650.5 100.5,650.6 102.0,646.4 103.5,650.8 104.7,650.9 106.5,650.6 107.1,650.6 108.6,646.5 110.1,649.8 110.6,649.4 112.0,650.9 113.6,650.6 115.2,650.9 116.7,648.8 118.3,650.7 120.0,650.9 121.3,650.9 123.1,650.9 124.5,650.9 125.9,650.5 127.0,650.8 128.2,650.9 129.2,650.6 130.7,643.5 132.2,650.7 132.5,650.7 134.0,650.8 135.3,650.8 136.2,650.8 137.7,644.7 139.2,650.8 139.3,650.9 140.9,650.5 142.1,650.9 143.9,650.8 145.3,649.3 146.9,650.6 148.1,650.7 149.6,650.7 151.3,650.5 152.9,650.5 154.4,650.9 155.8,650.4 157.4,650.7 157.6,650.7 159.1,642.3 160.6,650.8 161.5,650.6 162.6,650.9 163.2,650.9 164.7,626.0 166.2,650.5 166.4,650.4 168.2,650.8 169.9,650.9 171.1,650.9 173.0,650.4 174.3,650.6 176.1,650.5 177.1,650.8 178.6,647.0 180.1,650.3 180.8,650.0 181.9,650.5 183.8,650.9 185.0,650.8 186.5,650.9 187.9,650.8 189.3,650.6 190.4,650.4 191.8,650.8 192.9,650.7 194.4,650.5 195.8,648.9 197.6,650.4 198.8,650.7 200.2,650.7 201.8,650.8 203.3,650.5 204.8,641.0 206.3,650.5 207.7,650.5 209.3,650.9 211.1,649.5 212.9,650.9 214.2,650.9 215.9,650.7 217.2,650.9 217.2,650.9 218.7,643.5 220.2,649.9 220.4,649.8 222.1,650.8 223.3,650.8 225.0,650.9 225.2,650.9 226.7,645.0 228.2,650.7 229.3,650.9 231.0,650.5 232.8,649.0 234.3,650.9 235.8,650.9 237.4,650.6 237.9,650.6 239.4,647.0 240.9,650.8 242.4,650.6 243.8,650.9 245.4,650.6 247.1,650.5 248.3,650.8 250.0,648.7 251.5,650.9 252.9,650.6 254.4,650.8 256.1,650.8 257.6,646.0 259.1,650.6 259.1,650.6 260.4,650.9 262.0,650.4 263.5,650.9 265.2,650.5 267.0,650.9 268.2,648.6 269.6,650.8 271.0,650.8 272.2,650.9 273.7,650.9 274.9,650.9 276.7,650.7 278.0,650.8 279.7,650.9 280.9,650.9 282.6,650.5 284.1,650.6 285.3,649.6 286.9,649.8 288.1,650.7 289.3,650.7 291.0,650.7 292.2,650.5 293.9,650.6 295.7,650.9 296.8,649.2 298.6,650.7 300.4,650.7 301.6,650.9 303.0,650.9 304.3,650.6 306.1,650.8 307.4,650.5 308.8,650.8 310.1,650.6 311.7,650.9 313.5,650.8 314.9,650.9 316.7,648.7 316.9,648.9 318.4,647.0 319.9,650.8 320.2,650.9 321.6,650.5 323.2,649.6 324.6,650.8 326.1,650.9 327.8,650.9 329.2,649.6 329.8,649.9 331.3,645.4 332.8,650.8 334.0,650.6 335.2,650.7 337.0,650.7 338.8,650.6 340.4,650.9 342.3,649.8 343.9,650.6 345.1,648.5 346.7,650.8 348.2,650.9 349.8,650.8 351.5,650.9 352.8,649.8 354.3,644.0 355.8,650.9 356.6,650.9 358.3,648.4 359.9,650.5 361.6,650.8 362.8,650.9 363.8,650.8 365.3,645.0 366.8,649.8 368.0,648.3 369.6,650.5 371.2,650.9 372.8,650.9 374.6,650.4 375.9,650.9 377.1,650.8 378.7,650.9 380.3,650.6 382.0,648.2 383.5,639.1 385.0,650.6 385.5,650.9 387.1,650.9 388.5,650.4 389.9,650.5 391.3,650.9 392.7,650.9 393.9,650.8 395.7,649.2 397.2,650.9 398.9,650.9 400.5,650.9 402.2,650.9 403.3,649.2 404.6,650.9 405.8,650.5 407.1,650.9 408.4,649.5 409.5,649.7 411.1,650.5 412.3,650.8 413.9,650.7 415.5,650.9 417.0,650.5 418.7,650.9 420.4,650.9 422.3,650.8 423.8,650.8 425.3,650.9 426.6,650.7 428.0,650.6 429.3,650.7 431.1,650.5 432.8,650.6 434.1,650.8 435.9,650.9 437.1,650.8 438.9,650.7 440.6,650.5 442.1,650.9 443.4,650.9 444.6,650.8 446.3,650.5 448.0,650.6 449.5,650.5 450.7,650.8 451.9,650.6 453.6,650.5 455.4,650.9 456.8,650.8 458.5,649.1 459.8,650.8 461.1,650.8 462.6,650.7 464.0,650.9 465.7,650.6 467.3,650.5 469.1,650.9 471.0,650.8 472.8,650.7 474.5,650.9 475.8,650.9 477.2,650.6 478.4,650.8 480.0,650.9 481.2,650.8 483.0,650.9 484.2,650.9 485.7,648.8 487.1,650.9 488.4,650.9 490.1,650.9 491.5,650.5 493.4,650.9 493.8,650.9 495.3,639.8 496.8,650.7 497.4,650.6 498.6,650.7 499.9,650.8 501.1,650.7 502.5,650.8 503.1,650.4 504.6,599.2 506.1,650.8 507.4,650.7 508.6,650.7 510.0,650.8 510.4,650.8 511.9,638.6 513.4,650.4 514.8,649.3 516.5,650.9 518.0,650.7 519.4,650.7 520.6,650.8 522.1,642.0 523.6,650.6 523.8,650.6 525.7,650.9 527.1,647.9 528.5,650.4 530.3,650.8 531.5,650.9 532.9,650.5 534.4,650.6 535.8,650.8 537.1,650.9 538.1,650.9 539.6,643.0 541.1,650.5 542.4,650.7 543.5,650.7 545.1,650.7 546.5,650.9 548.2,650.7 549.7,650.9 551.0,650.9 552.5,634.2 554.0,650.7 554.7,650.6 556.5,650.9 558.4,650.8 559.8,650.6 561.3,648.5 562.9,650.9 564.5,650.7 566.0,650.6 567.7,650.7 569.4,650.9 570.7,650.8 572.5,650.6 574.1,650.9 575.9,650.9 577.5,650.5 579.4,650.9 581.2,650.7 582.8,648.7 584.1,648.4 585.3,650.6 586.6,650.4 588.5,650.8 589.9,650.5 591.2,650.9 593.0,650.8 594.2,650.8 596.1,650.6 597.6,650.8 598.7,650.8 600.2,650.9 601.8,650.4 603.5,650.5 604.9,650.6 606.4,650.8 607.7,650.7 609.3,650.9 610.8,650.6 612.5,650.7 614.2,650.8 615.4,650.7 616.9,643.0 618.4,650.9 618.9,650.9 620.1,650.9 621.8,650.6 623.6,650.6 624.7,650.7 626.1,650.8 627.6,650.8 629.5,650.7 631.2,650.9 632.7,649.9 633.9,649.9 635.8,650.9 637.4,650.4 639.2,650.8 640.3,650.6 641.8,650.4 643.3,650.8 644.5,650.6 645.9,650.9 647.5,650.6 648.7,650.9 650.2,648.8 652.1,650.6 653.2,650.8 654.4,650.9 656.0,650.7 657.3,650.9 659.0,648.1 660.9,650.8 662.7,650.6 664.5,650.5 666.3,650.8 667.8,650.9 669.6,649.9 671.0,650.8 672.3,650.8 673.7,650.9 675.2,650.7 676.8,650.7 678.2,650.9 679.5,650.8 680.9,650.9 682.5,650.9 684.2,650.7 685.9,650.9 687.1,650.8 688.3,650.9 689.9,650.8 691.1,650.7 692.8,650.9 694.3,650.7 696.1,650.4 697.6,650.8 698.9,650.9 700.3,650.8 702.0,649.6 703.2,650.9 704.8,650.9 706.2,650.8 707.9,648.5 709.3,650.5 709.7,650.6 711.2,643.0 712.7,650.8 713.4,650.9 714.8,650.9 716.3,650.8 717.7,650.9 719.6,650.9 721.0,650.8 722.3,650.7 724.1,650.5 725.4,650.9 727.1,650.9 728.6,650.4 730.4,650.7 731.6,650.8 733.1,650.8 734.4,650.9 735.8,650.4 737.5,650.5 739.2,650.9 741.0,650.4 742.6,650.8 744.1,650.6 745.3,650.9 746.7,650.9 748.2,650.8 749.7,650.8 751.1,650.9 752.3,650.8 754.1,650.8 755.4,650.8 756.9,648.6 758.4,650.7 760.1,650.8 761.8,650.8 763.5,650.7 765.2,650.9 766.7,650.9 768.3,650.9 769.8,650.6 771.5,649.8 773.3,650.9 774.9,648.8 776.7,650.8 778.2,650.9 779.6,650.6 781.2,650.5 782.6,650.7 783.8,650.9 785.5,650.9 786.8,650.8 788.2,650.8 789.4,650.5 790.8,650.7 792.1,650.7 793.2,650.4 795.0,650.6 796.2,650.7 797.5,650.8 797.9,650.7 799.4,642.5 800.9,650.9 802.4,650.6 803.8,650.6 805.5,649.5 807.2,650.7 809.0,649.7 810.5,650.5 811.7,650.9 813.5,650.9 815.3,650.9 816.9,650.5 818.3,650.6 820.1,650.4 822.0,650.8 823.8,650.9 824.9,650.4 826.6,648.8 827.9,650.7 829.2,650.7 831.0,650.9 832.1,650.9 833.5,650.5 834.8,650.9 836.4,650.5 838.0,650.7 839.2,650.7 840.9,650.9 842.4,649.7 843.6,650.8 844.9,649.6 846.1,650.6 847.6,650.9 848.8,650.9 850.7,650.8 852.0,649.1 853.8,650.4 853.9,650.4 855.4,644.5 856.9,650.7 857.9,650.5 859.1,650.5 860.7,650.8 862.4,650.9 863.7,650.5 865.4,650.5 867.3,650.8 868.9,650.7 870.2,650.8 871.7,650.4 873.4,650.7 875.1,650.9 876.6,650.5 878.3,650.9 880.2,650.9 881.7,650.5 883.1,650.9 884.0,650.9 885.5,638.6 887.0,650.4 887.5,650.4 888.7,650.8 889.8,650.9 891.5,650.9 892.7,650.7 894.1,650.9 895.9,650.7 897.5,650.9 899.1,650.9 899.3,650.8 900.8,645.0 902.3,650.6 903.3,650.4 904.8,650.9 906.2,650.8 907.4,650.7 909.0,650.5 910.4,648.8 912.0,650.6 913.7,650.8 915.1,650.8 916.5,650.6 917.8,648.1 919.4,650.8 920.8,650.7 922.5,650.9 924.3,650.9 925.8,650.8 927.3,650.9 928.8,650.9 930.2,650.7 931.4,650.8 933.2,650.5 935.1,650.9 936.5,650.9 938.2,650.5 939.8,650.5 941.7,650.7 943.2,650.9 944.9,650.5 946.4,650.7 948.2,650.9 949.9,648.6 951.4,650.8 952.9,650.6 954.7,650.9 956.0,650.7 957.5,650.8 958.9,650.8 960.7,650.8 962.3,650.9 962.3,650.9 963.8,645.1 965.3,650.8 966.3,650.9 967.8,641.2 969.3,650.6 970.0,650.5 971.5,650.9 973.0,650.7 974.8,650.8 976.2,650.5 977.4,650.9 978.8,650.7 980.2,650.6 982.0,650.5 983.7,647.9 985.3,650.8 986.5,650.9 988.0,629.9 989.5,650.7 990.0,650.8 991.7,650.6 993.1,650.8 994.3,650.9 996.0,650.8 997.1,650.9 998.6,650.7 999.9,650.9 1001.0,650.7 1002.2,650.9 1003.7,650.8 1004.9,650.5 1006.1,650.8 1007.9,650.5 1009.4,649.6 1011.0,650.8 1012.2,650.5 1013.7,645.0 1015.2,650.9 1015.7,650.9 1017.0,650.6 1018.7,650.5 1020.1,650.8 1021.4,650.8 1022.8,650.9 1024.3,650.8 1025.9,650.7 1027.4,642.0 1028.9,650.6 1029.1,650.6 1029.8,650.6 1031.3,639.9 1032.8,650.6 1033.4,650.6 1035.2,650.7 1036.4,650.7 1037.8,650.7 1039.1,650.7 1040.2,650.6 1041.6,650.7 1042.8,650.7 1044.0,650.8 1045.8,650.4 1046.9,650.8 1048.4,645.0 1049.9,650.6 1050.2,650.6 1051.8,650.6 1053.0,650.8 1054.9,650.9 1056.5,650.7 1058.4,650.8 1059.5,650.9 1061.0,650.7 1062.1,650.5 1063.6,650.9 1064.8,650.9 1066.3,650.9 1067.5,650.8 1069.1,648.1 1070.8,650.4 1072.0,648.5 1073.6,650.9 1075.4,650.8 1076.9,650.9 1078.7,650.9 1079.9,650.5 1081.3,650.7 1082.8,650.9 1084.5,650.6 1086.3,650.5 1087.4,650.9 1089.0,650.8 1090.7,650.7 1091.5,650.7 1093.0,645.5 1094.5,650.9 1095.2,650.9 1096.8,649.7 1098.4,650.9 1100.1,650.6 1101.5,650.9 1103.2,650.9 1104.6,649.3 1106.3,650.8 1107.8,650.5 1109.5,650.9 1111.4,650.9 1113.0,650.4 1114.3,650.7 1115.5,649.6 1116.8,650.9 1118.2,650.5 1119.5,650.5 1121.0,650.6 1122.4,650.5 1124.2,650.9 1125.7,650.7 1127.0,650.8 1128.4,650.7 1129.7,650.6 1131.0,650.9 1132.8,650.9 1134.5,650.9 1136.3,650.8 1138.1,650.5 1139.4,650.6 1141.1,650.5 1142.8,650.9 1144.6,650.9 1145.8,650.6 1147.1,650.7 1148.7,650.9 1149.9,650.4 1151.4,650.6 1152.7,650.7 1154.1,650.8 1155.3,650.9 1156.8,634.1 1158.3,649.7 1159.2,648.7 1160.8,650.9 1162.5,650.8 1163.6,650.9 1164.8,650.5 1166.0,649.9 1167.2,650.6 1168.9,650.9 1170.5,648.0 1172.2,650.7 1173.7,650.7 1175.2,650.8 1176.5,650.8 1178.2,649.0 1179.3,650.5 1180.5,650.9 1182.2,650.8 1183.5,650.6 1184.8,650.6 1186.2,650.9 1187.3,650.7 1188.8,650.8 1190.4,650.7 1191.9,650.9 1193.0,650.6 1194.2,650.7 1196.0,650.9 1197.7,650.8 1199.1,650.8 1200.4,650.7 1201.9,644.6 1203.1,649.4 1204.6,642.5 1206.1,650.8 1207.4,650.6 1209.0,650.5 1210.2,650.8 1211.7,650.9 1213.3,650.6 1214.7,650.9 1216.1,650.7 1217.7,650.8 1219.0,650.8 1219.6,650.8 1221.1,646.0 1222.6,650.8" fill="none" stroke="#eab839" stroke-width="1.9" stroke-linejoin="round"/>
<polygon points="345.4,651.2 345.4,649.5 346.3,624.7 347.8,649.2 633.5,646.2 635.1,639.1 636.6,646.4 640.7,645.9 643.3,520.1 795.5,647.1 798.0,647.5 861.5,649.8 863.1,640.5 864.8,649.9 866.5,650.2 908.8,639.3 910.5,650.7 1197.5,650.9 1197.5,651.2" fill="#6ed0e0" fill-opacity="0.1" stroke="none"/>
<polyline points="345.4,649.5 346.3,624.7 347.8,649.2 633.5,646.2 635.1,639.1 636.6,646.4 640.7,645.9 643.3,520.1 795.5,647.1 798.0,647.5 861.5,649.8 863.1,640.5 864.8,649.9 866.5,650.2 908.8,639.3 910.5,650.7 1197.5,650.9" fill="none" stroke="#6ed0e0" stroke-width="2.0" stroke-linejoin="round"/>
</svg>
<div class="yl" style="left:-0.8px;top:168.2px">0</div>
<div class="yl" style="left:-0.8px;top:131.8px">0.5</div>
<div class="yl" style="left:-0.8px;top:95.3px">1.0</div>
<div class="yl" style="left:-0.8px;top:58.9px">1.5</div>
<div class="yl" style="left:-0.8px;top:22.4px">2.0</div>
<div class="xl" style="left:39.5px;top:182.8px">12/5 00:00</div>
<div class="xl" style="left:123.7px;top:182.8px">12/5 12:00</div>
<div class="xl" style="left:207.8px;top:182.8px">12/6 00:00</div>
<div class="xl" style="left:291.9px;top:182.8px">12/6 12:00</div>
<div class="xl" style="left:376.1px;top:182.8px">12/7 00:00</div>
<div class="xl" style="left:460.2px;top:182.8px">12/7 12:00</div>
<div class="xl" style="left:544.3px;top:182.8px">12/8 00:00</div>
<div class="xl" style="left:628.5px;top:182.8px">12/8 12:00</div>
<div class="xl" style="left:712.6px;top:182.8px">12/9 00:00</div>
<div class="xl" style="left:796.7px;top:182.8px">12/9 12:00</div>
<div class="xl" style="left:880.8px;top:182.8px">12/10 00:00</div>
<div class="xl" style="left:965.0px;top:182.8px">12/10 12:00</div>
<div class="xl" style="left:1049.1px;top:182.8px">12/11 00:00</div>
<div class="xl" style="left:1133.2px;top:182.8px">12/11 12:00</div>
<div class="ttl" style="left:428.4px;top:3.6px">Number of API Errors per Minute</div>
<div class="ax" style="left:-41.4px;top:102.2px">Count</div>
<div class="yl" style="left:-10.2px;top:406.8px">0</div>
<div class="yl" style="left:-10.2px;top:370.2px">2</div>
<div class="yl" style="left:-10.2px;top:333.6px">4</div>
<div class="yl" style="left:-10.2px;top:296.9px">6</div>
<div class="yl" style="left:-10.2px;top:260.3px">8</div>
<div class="xl" style="left:29.5px;top:419.7px">12/5 00:00</div>
<div class="xl" style="left:114.4px;top:419.7px">12/5 12:00</div>
<div class="xl" style="left:199.3px;top:419.7px">12/6 00:00</div>
<div class="xl" style="left:284.2px;top:419.7px">12/6 12:00</div>
<div class="xl" style="left:369.1px;top:419.7px">12/7 00:00</div>
<div class="xl" style="left:454.0px;top:419.7px">12/7 12:00</div>
<div class="xl" style="left:538.9px;top:419.7px">12/8 00:00</div>
<div class="xl" style="left:623.8px;top:419.7px">12/8 12:00</div>
<div class="xl" style="left:708.7px;top:419.7px">12/9 00:00</div>
<div class="xl" style="left:793.6px;top:419.7px">12/9 12:00</div>
<div class="xl" style="left:878.5px;top:419.7px">12/10 00:00</div>
<div class="xl" style="left:963.4px;top:419.7px">12/10 12:00</div>
<div class="xl" style="left:1048.3px;top:419.7px">12/11 00:00</div>
<div class="xl" style="left:1133.2px;top:419.7px">12/11 12:00</div>
<div class="ttl" style="left:428.4px;top:241.8px">Number of API Requests per Minute</div>
<div class="ax" style="left:-41.4px;top:340.4px">Count</div>
<div class="yl" style="left:4.9px;top:644.7px">0</div>
<div class="yl" style="left:4.9px;top:615.5px">0.25</div>
<div class="yl" style="left:4.9px;top:586.3px">0.50</div>
<div class="yl" style="left:4.9px;top:557.1px">0.75</div>
<div class="yl" style="left:4.9px;top:527.9px">1.00</div>
<div class="yl" style="left:4.9px;top:498.7px">1.25</div>
<div class="xl" style="left:45.0px;top:657.5px">12/5 00:00</div>
<div class="xl" style="left:128.7px;top:657.5px">12/5 12:00</div>
<div class="xl" style="left:212.4px;top:657.5px">12/6 00:00</div>
<div class="xl" style="left:296.1px;top:657.5px">12/6 12:00</div>
<div class="xl" style="left:379.8px;top:657.5px">12/7 00:00</div>
<div class="xl" style="left:463.5px;top:657.5px">12/7 12:00</div>
<div class="xl" style="left:547.3px;top:657.5px">12/8 00:00</div>
<div class="xl" style="left:631.0px;top:657.5px">12/8 12:00</div>
<div class="xl" style="left:714.7px;top:657.5px">12/9 00:00</div>
<div class="xl" style="left:798.4px;top:657.5px">12/9 12:00</div>
<div class="xl" style="left:882.1px;top:657.5px">12/10 00:00</div>
<div class="xl" style="left:965.8px;top:657.5px">12/10 12:00</div>
<div class="xl" style="left:1049.5px;top:657.5px">12/11 00:00</div>
<div class="xl" style="left:1133.2px;top:657.5px">12/11 12:00</div>
<div class="ttl" style="left:427.70000000000005px;top:478.8px">Mean Request Time per Minute</div>
<div class="ax" style="left:-41.4px;top:578.3px">Seconds</div>
</body></html>
